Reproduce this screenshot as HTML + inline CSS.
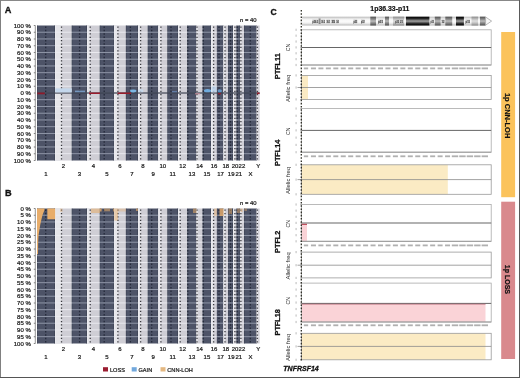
<!DOCTYPE html><html><head><meta charset="utf-8"><style>html,body{margin:0;padding:0;background:#fff}body{width:520px;height:378px;overflow:hidden;position:relative}svg{position:absolute;left:0;top:0;will-change:transform}text{font-family:"Liberation Sans",sans-serif}text.t{stroke:#1a1a1a;stroke-width:0.22px}text.b{stroke:#111;stroke-width:0.3px}text.b2{stroke:#111;stroke-width:0.2px}</style></head><body>
<svg width="520" height="378" viewBox="0 0 520 378">
<rect x="0" y="0" width="520" height="378" fill="#fff"/>
<text class="b" x="4.8" y="12.6" font-size="9.2" font-weight="bold" fill="#111">A</text>
<text x="240" y="22" font-size="5.9" fill="#222" class="t">n = 40</text>
<rect x="37.0" y="25.5" width="18.00" height="135.0" fill="#4d5367"/>
<rect x="54.40" y="25.5" width="0.6" height="135.0" fill="#3b4050"/>
<rect x="37.00" y="25.5" width="0.5" height="135.0" fill="#3b4050"/>
<rect x="55.0" y="25.5" width="16.80" height="135.0" fill="#cfced5"/>
<rect x="55.0" y="25.5" width="6.50" height="135.0" fill="#e5e5e9"/>
<rect x="55.10" y="25.5" width="1.0" height="135.0" fill="#ececf0"/>
<rect x="71.8" y="25.5" width="15.20" height="135.0" fill="#4d5367"/>
<rect x="86.40" y="25.5" width="0.6" height="135.0" fill="#3b4050"/>
<rect x="71.80" y="25.5" width="0.5" height="135.0" fill="#3b4050"/>
<rect x="87.0" y="25.5" width="12.80" height="135.0" fill="#cfced5"/>
<rect x="87.0" y="25.5" width="3.20" height="135.0" fill="#e5e5e9"/>
<rect x="87.10" y="25.5" width="1.0" height="135.0" fill="#ececf0"/>
<rect x="99.8" y="25.5" width="14.30" height="135.0" fill="#4d5367"/>
<rect x="113.50" y="25.5" width="0.6" height="135.0" fill="#3b4050"/>
<rect x="99.80" y="25.5" width="0.5" height="135.0" fill="#3b4050"/>
<rect x="114.1" y="25.5" width="11.80" height="135.0" fill="#cfced5"/>
<rect x="114.1" y="25.5" width="3.80" height="135.0" fill="#e5e5e9"/>
<rect x="114.20" y="25.5" width="1.0" height="135.0" fill="#ececf0"/>
<rect x="125.9" y="25.5" width="12.10" height="135.0" fill="#4d5367"/>
<rect x="137.40" y="25.5" width="0.6" height="135.0" fill="#3b4050"/>
<rect x="125.90" y="25.5" width="0.5" height="135.0" fill="#3b4050"/>
<rect x="138.0" y="25.5" width="9.80" height="135.0" fill="#cfced5"/>
<rect x="138.0" y="25.5" width="2.60" height="135.0" fill="#e5e5e9"/>
<rect x="138.10" y="25.5" width="1.0" height="135.0" fill="#ececf0"/>
<rect x="147.8" y="25.5" width="10.50" height="135.0" fill="#4d5367"/>
<rect x="157.70" y="25.5" width="0.6" height="135.0" fill="#3b4050"/>
<rect x="147.80" y="25.5" width="0.5" height="135.0" fill="#3b4050"/>
<rect x="158.3" y="25.5" width="9.10" height="135.0" fill="#cfced5"/>
<rect x="158.3" y="25.5" width="2.60" height="135.0" fill="#e5e5e9"/>
<rect x="158.40" y="25.5" width="1.0" height="135.0" fill="#ececf0"/>
<rect x="167.4" y="25.5" width="10.60" height="135.0" fill="#4d5367"/>
<rect x="177.40" y="25.5" width="0.6" height="135.0" fill="#3b4050"/>
<rect x="167.40" y="25.5" width="0.5" height="135.0" fill="#3b4050"/>
<rect x="178.0" y="25.5" width="9.30" height="135.0" fill="#cfced5"/>
<rect x="178.0" y="25.5" width="2.20" height="135.0" fill="#e5e5e9"/>
<rect x="178.10" y="25.5" width="1.0" height="135.0" fill="#ececf0"/>
<rect x="187.3" y="25.5" width="9.20" height="135.0" fill="#4d5367"/>
<rect x="195.90" y="25.5" width="0.6" height="135.0" fill="#3b4050"/>
<rect x="187.30" y="25.5" width="0.5" height="135.0" fill="#3b4050"/>
<rect x="196.5" y="25.5" width="6.20" height="135.0" fill="#cfced5"/>
<rect x="196.5" y="25.5" width="0.50" height="135.0" fill="#e5e5e9"/>
<rect x="196.60" y="25.5" width="1.0" height="135.0" fill="#ececf0"/>
<rect x="202.7" y="25.5" width="8.40" height="135.0" fill="#4d5367"/>
<rect x="210.50" y="25.5" width="0.6" height="135.0" fill="#3b4050"/>
<rect x="202.70" y="25.5" width="0.5" height="135.0" fill="#3b4050"/>
<rect x="211.1" y="25.5" width="5.80" height="135.0" fill="#cfced5"/>
<rect x="211.1" y="25.5" width="2.50" height="135.0" fill="#e5e5e9"/>
<rect x="211.20" y="25.5" width="1.0" height="135.0" fill="#ececf0"/>
<rect x="216.9" y="25.5" width="6.60" height="135.0" fill="#4d5367"/>
<rect x="222.90" y="25.5" width="0.6" height="135.0" fill="#3b4050"/>
<rect x="216.90" y="25.5" width="0.5" height="135.0" fill="#3b4050"/>
<rect x="223.5" y="25.5" width="4.50" height="135.0" fill="#cfced5"/>
<rect x="223.5" y="25.5" width="1.50" height="135.0" fill="#e5e5e9"/>
<rect x="223.60" y="25.5" width="1.0" height="135.0" fill="#ececf0"/>
<rect x="228.0" y="25.5" width="5.00" height="135.0" fill="#4d5367"/>
<rect x="232.40" y="25.5" width="0.6" height="135.0" fill="#3b4050"/>
<rect x="228.00" y="25.5" width="0.5" height="135.0" fill="#3b4050"/>
<rect x="233.0" y="25.5" width="3.60" height="135.0" fill="#cfced5"/>
<rect x="233.0" y="25.5" width="1.90" height="135.0" fill="#e5e5e9"/>
<rect x="233.10" y="25.5" width="1.0" height="135.0" fill="#ececf0"/>
<rect x="236.6" y="25.5" width="3.70" height="135.0" fill="#4d5367"/>
<rect x="239.70" y="25.5" width="0.6" height="135.0" fill="#3b4050"/>
<rect x="236.60" y="25.5" width="0.5" height="135.0" fill="#3b4050"/>
<rect x="240.3" y="25.5" width="3.70" height="135.0" fill="#cfced5"/>
<rect x="240.3" y="25.5" width="0.60" height="135.0" fill="#e5e5e9"/>
<rect x="240.40" y="25.5" width="1.0" height="135.0" fill="#ececf0"/>
<rect x="244.0" y="25.5" width="12.70" height="135.0" fill="#4d5367"/>
<rect x="256.10" y="25.5" width="0.6" height="135.0" fill="#3b4050"/>
<rect x="244.00" y="25.5" width="0.5" height="135.0" fill="#3b4050"/>
<rect x="256.7" y="25.5" width="2.90" height="135.0" fill="#cfced5"/>
<rect x="256.7" y="25.5" width="0.60" height="135.0" fill="#e5e5e9"/>
<rect x="256.80" y="25.5" width="1.0" height="135.0" fill="#ececf0"/>
<rect x="37.0" y="31.75" width="18.00" height="0.9" fill="#949bac"/>
<rect x="55.0" y="31.75" width="16.80" height="0.9" fill="#ececf1"/>
<rect x="71.8" y="31.75" width="15.20" height="0.9" fill="#949bac"/>
<rect x="87.0" y="31.75" width="12.80" height="0.9" fill="#ececf1"/>
<rect x="99.8" y="31.75" width="14.30" height="0.9" fill="#949bac"/>
<rect x="114.1" y="31.75" width="11.80" height="0.9" fill="#ececf1"/>
<rect x="125.9" y="31.75" width="12.10" height="0.9" fill="#949bac"/>
<rect x="138.0" y="31.75" width="9.80" height="0.9" fill="#ececf1"/>
<rect x="147.8" y="31.75" width="10.50" height="0.9" fill="#949bac"/>
<rect x="158.3" y="31.75" width="9.10" height="0.9" fill="#ececf1"/>
<rect x="167.4" y="31.75" width="10.60" height="0.9" fill="#949bac"/>
<rect x="178.0" y="31.75" width="9.30" height="0.9" fill="#ececf1"/>
<rect x="187.3" y="31.75" width="9.20" height="0.9" fill="#949bac"/>
<rect x="196.5" y="31.75" width="6.20" height="0.9" fill="#ececf1"/>
<rect x="202.7" y="31.75" width="8.40" height="0.9" fill="#949bac"/>
<rect x="211.1" y="31.75" width="5.80" height="0.9" fill="#ececf1"/>
<rect x="216.9" y="31.75" width="6.60" height="0.9" fill="#949bac"/>
<rect x="223.5" y="31.75" width="4.50" height="0.9" fill="#ececf1"/>
<rect x="228.0" y="31.75" width="5.00" height="0.9" fill="#949bac"/>
<rect x="233.0" y="31.75" width="3.60" height="0.9" fill="#ececf1"/>
<rect x="236.6" y="31.75" width="3.70" height="0.9" fill="#949bac"/>
<rect x="240.3" y="31.75" width="3.70" height="0.9" fill="#ececf1"/>
<rect x="244.0" y="31.75" width="12.70" height="0.9" fill="#949bac"/>
<rect x="256.7" y="31.75" width="2.90" height="0.9" fill="#ececf1"/>
<rect x="37.0" y="38.50" width="18.00" height="0.9" fill="#949bac"/>
<rect x="55.0" y="38.50" width="16.80" height="0.9" fill="#ececf1"/>
<rect x="71.8" y="38.50" width="15.20" height="0.9" fill="#949bac"/>
<rect x="87.0" y="38.50" width="12.80" height="0.9" fill="#ececf1"/>
<rect x="99.8" y="38.50" width="14.30" height="0.9" fill="#949bac"/>
<rect x="114.1" y="38.50" width="11.80" height="0.9" fill="#ececf1"/>
<rect x="125.9" y="38.50" width="12.10" height="0.9" fill="#949bac"/>
<rect x="138.0" y="38.50" width="9.80" height="0.9" fill="#ececf1"/>
<rect x="147.8" y="38.50" width="10.50" height="0.9" fill="#949bac"/>
<rect x="158.3" y="38.50" width="9.10" height="0.9" fill="#ececf1"/>
<rect x="167.4" y="38.50" width="10.60" height="0.9" fill="#949bac"/>
<rect x="178.0" y="38.50" width="9.30" height="0.9" fill="#ececf1"/>
<rect x="187.3" y="38.50" width="9.20" height="0.9" fill="#949bac"/>
<rect x="196.5" y="38.50" width="6.20" height="0.9" fill="#ececf1"/>
<rect x="202.7" y="38.50" width="8.40" height="0.9" fill="#949bac"/>
<rect x="211.1" y="38.50" width="5.80" height="0.9" fill="#ececf1"/>
<rect x="216.9" y="38.50" width="6.60" height="0.9" fill="#949bac"/>
<rect x="223.5" y="38.50" width="4.50" height="0.9" fill="#ececf1"/>
<rect x="228.0" y="38.50" width="5.00" height="0.9" fill="#949bac"/>
<rect x="233.0" y="38.50" width="3.60" height="0.9" fill="#ececf1"/>
<rect x="236.6" y="38.50" width="3.70" height="0.9" fill="#949bac"/>
<rect x="240.3" y="38.50" width="3.70" height="0.9" fill="#ececf1"/>
<rect x="244.0" y="38.50" width="12.70" height="0.9" fill="#949bac"/>
<rect x="256.7" y="38.50" width="2.90" height="0.9" fill="#ececf1"/>
<rect x="37.0" y="45.25" width="18.00" height="0.9" fill="#949bac"/>
<rect x="55.0" y="45.25" width="16.80" height="0.9" fill="#ececf1"/>
<rect x="71.8" y="45.25" width="15.20" height="0.9" fill="#949bac"/>
<rect x="87.0" y="45.25" width="12.80" height="0.9" fill="#ececf1"/>
<rect x="99.8" y="45.25" width="14.30" height="0.9" fill="#949bac"/>
<rect x="114.1" y="45.25" width="11.80" height="0.9" fill="#ececf1"/>
<rect x="125.9" y="45.25" width="12.10" height="0.9" fill="#949bac"/>
<rect x="138.0" y="45.25" width="9.80" height="0.9" fill="#ececf1"/>
<rect x="147.8" y="45.25" width="10.50" height="0.9" fill="#949bac"/>
<rect x="158.3" y="45.25" width="9.10" height="0.9" fill="#ececf1"/>
<rect x="167.4" y="45.25" width="10.60" height="0.9" fill="#949bac"/>
<rect x="178.0" y="45.25" width="9.30" height="0.9" fill="#ececf1"/>
<rect x="187.3" y="45.25" width="9.20" height="0.9" fill="#949bac"/>
<rect x="196.5" y="45.25" width="6.20" height="0.9" fill="#ececf1"/>
<rect x="202.7" y="45.25" width="8.40" height="0.9" fill="#949bac"/>
<rect x="211.1" y="45.25" width="5.80" height="0.9" fill="#ececf1"/>
<rect x="216.9" y="45.25" width="6.60" height="0.9" fill="#949bac"/>
<rect x="223.5" y="45.25" width="4.50" height="0.9" fill="#ececf1"/>
<rect x="228.0" y="45.25" width="5.00" height="0.9" fill="#949bac"/>
<rect x="233.0" y="45.25" width="3.60" height="0.9" fill="#ececf1"/>
<rect x="236.6" y="45.25" width="3.70" height="0.9" fill="#949bac"/>
<rect x="240.3" y="45.25" width="3.70" height="0.9" fill="#ececf1"/>
<rect x="244.0" y="45.25" width="12.70" height="0.9" fill="#949bac"/>
<rect x="256.7" y="45.25" width="2.90" height="0.9" fill="#ececf1"/>
<rect x="37.0" y="52.00" width="18.00" height="0.9" fill="#949bac"/>
<rect x="55.0" y="52.00" width="16.80" height="0.9" fill="#ececf1"/>
<rect x="71.8" y="52.00" width="15.20" height="0.9" fill="#949bac"/>
<rect x="87.0" y="52.00" width="12.80" height="0.9" fill="#ececf1"/>
<rect x="99.8" y="52.00" width="14.30" height="0.9" fill="#949bac"/>
<rect x="114.1" y="52.00" width="11.80" height="0.9" fill="#ececf1"/>
<rect x="125.9" y="52.00" width="12.10" height="0.9" fill="#949bac"/>
<rect x="138.0" y="52.00" width="9.80" height="0.9" fill="#ececf1"/>
<rect x="147.8" y="52.00" width="10.50" height="0.9" fill="#949bac"/>
<rect x="158.3" y="52.00" width="9.10" height="0.9" fill="#ececf1"/>
<rect x="167.4" y="52.00" width="10.60" height="0.9" fill="#949bac"/>
<rect x="178.0" y="52.00" width="9.30" height="0.9" fill="#ececf1"/>
<rect x="187.3" y="52.00" width="9.20" height="0.9" fill="#949bac"/>
<rect x="196.5" y="52.00" width="6.20" height="0.9" fill="#ececf1"/>
<rect x="202.7" y="52.00" width="8.40" height="0.9" fill="#949bac"/>
<rect x="211.1" y="52.00" width="5.80" height="0.9" fill="#ececf1"/>
<rect x="216.9" y="52.00" width="6.60" height="0.9" fill="#949bac"/>
<rect x="223.5" y="52.00" width="4.50" height="0.9" fill="#ececf1"/>
<rect x="228.0" y="52.00" width="5.00" height="0.9" fill="#949bac"/>
<rect x="233.0" y="52.00" width="3.60" height="0.9" fill="#ececf1"/>
<rect x="236.6" y="52.00" width="3.70" height="0.9" fill="#949bac"/>
<rect x="240.3" y="52.00" width="3.70" height="0.9" fill="#ececf1"/>
<rect x="244.0" y="52.00" width="12.70" height="0.9" fill="#949bac"/>
<rect x="256.7" y="52.00" width="2.90" height="0.9" fill="#ececf1"/>
<rect x="37.0" y="58.75" width="18.00" height="0.9" fill="#949bac"/>
<rect x="55.0" y="58.75" width="16.80" height="0.9" fill="#ececf1"/>
<rect x="71.8" y="58.75" width="15.20" height="0.9" fill="#949bac"/>
<rect x="87.0" y="58.75" width="12.80" height="0.9" fill="#ececf1"/>
<rect x="99.8" y="58.75" width="14.30" height="0.9" fill="#949bac"/>
<rect x="114.1" y="58.75" width="11.80" height="0.9" fill="#ececf1"/>
<rect x="125.9" y="58.75" width="12.10" height="0.9" fill="#949bac"/>
<rect x="138.0" y="58.75" width="9.80" height="0.9" fill="#ececf1"/>
<rect x="147.8" y="58.75" width="10.50" height="0.9" fill="#949bac"/>
<rect x="158.3" y="58.75" width="9.10" height="0.9" fill="#ececf1"/>
<rect x="167.4" y="58.75" width="10.60" height="0.9" fill="#949bac"/>
<rect x="178.0" y="58.75" width="9.30" height="0.9" fill="#ececf1"/>
<rect x="187.3" y="58.75" width="9.20" height="0.9" fill="#949bac"/>
<rect x="196.5" y="58.75" width="6.20" height="0.9" fill="#ececf1"/>
<rect x="202.7" y="58.75" width="8.40" height="0.9" fill="#949bac"/>
<rect x="211.1" y="58.75" width="5.80" height="0.9" fill="#ececf1"/>
<rect x="216.9" y="58.75" width="6.60" height="0.9" fill="#949bac"/>
<rect x="223.5" y="58.75" width="4.50" height="0.9" fill="#ececf1"/>
<rect x="228.0" y="58.75" width="5.00" height="0.9" fill="#949bac"/>
<rect x="233.0" y="58.75" width="3.60" height="0.9" fill="#ececf1"/>
<rect x="236.6" y="58.75" width="3.70" height="0.9" fill="#949bac"/>
<rect x="240.3" y="58.75" width="3.70" height="0.9" fill="#ececf1"/>
<rect x="244.0" y="58.75" width="12.70" height="0.9" fill="#949bac"/>
<rect x="256.7" y="58.75" width="2.90" height="0.9" fill="#ececf1"/>
<rect x="37.0" y="65.50" width="18.00" height="0.9" fill="#949bac"/>
<rect x="55.0" y="65.50" width="16.80" height="0.9" fill="#ececf1"/>
<rect x="71.8" y="65.50" width="15.20" height="0.9" fill="#949bac"/>
<rect x="87.0" y="65.50" width="12.80" height="0.9" fill="#ececf1"/>
<rect x="99.8" y="65.50" width="14.30" height="0.9" fill="#949bac"/>
<rect x="114.1" y="65.50" width="11.80" height="0.9" fill="#ececf1"/>
<rect x="125.9" y="65.50" width="12.10" height="0.9" fill="#949bac"/>
<rect x="138.0" y="65.50" width="9.80" height="0.9" fill="#ececf1"/>
<rect x="147.8" y="65.50" width="10.50" height="0.9" fill="#949bac"/>
<rect x="158.3" y="65.50" width="9.10" height="0.9" fill="#ececf1"/>
<rect x="167.4" y="65.50" width="10.60" height="0.9" fill="#949bac"/>
<rect x="178.0" y="65.50" width="9.30" height="0.9" fill="#ececf1"/>
<rect x="187.3" y="65.50" width="9.20" height="0.9" fill="#949bac"/>
<rect x="196.5" y="65.50" width="6.20" height="0.9" fill="#ececf1"/>
<rect x="202.7" y="65.50" width="8.40" height="0.9" fill="#949bac"/>
<rect x="211.1" y="65.50" width="5.80" height="0.9" fill="#ececf1"/>
<rect x="216.9" y="65.50" width="6.60" height="0.9" fill="#949bac"/>
<rect x="223.5" y="65.50" width="4.50" height="0.9" fill="#ececf1"/>
<rect x="228.0" y="65.50" width="5.00" height="0.9" fill="#949bac"/>
<rect x="233.0" y="65.50" width="3.60" height="0.9" fill="#ececf1"/>
<rect x="236.6" y="65.50" width="3.70" height="0.9" fill="#949bac"/>
<rect x="240.3" y="65.50" width="3.70" height="0.9" fill="#ececf1"/>
<rect x="244.0" y="65.50" width="12.70" height="0.9" fill="#949bac"/>
<rect x="256.7" y="65.50" width="2.90" height="0.9" fill="#ececf1"/>
<rect x="37.0" y="72.25" width="18.00" height="0.9" fill="#949bac"/>
<rect x="55.0" y="72.25" width="16.80" height="0.9" fill="#ececf1"/>
<rect x="71.8" y="72.25" width="15.20" height="0.9" fill="#949bac"/>
<rect x="87.0" y="72.25" width="12.80" height="0.9" fill="#ececf1"/>
<rect x="99.8" y="72.25" width="14.30" height="0.9" fill="#949bac"/>
<rect x="114.1" y="72.25" width="11.80" height="0.9" fill="#ececf1"/>
<rect x="125.9" y="72.25" width="12.10" height="0.9" fill="#949bac"/>
<rect x="138.0" y="72.25" width="9.80" height="0.9" fill="#ececf1"/>
<rect x="147.8" y="72.25" width="10.50" height="0.9" fill="#949bac"/>
<rect x="158.3" y="72.25" width="9.10" height="0.9" fill="#ececf1"/>
<rect x="167.4" y="72.25" width="10.60" height="0.9" fill="#949bac"/>
<rect x="178.0" y="72.25" width="9.30" height="0.9" fill="#ececf1"/>
<rect x="187.3" y="72.25" width="9.20" height="0.9" fill="#949bac"/>
<rect x="196.5" y="72.25" width="6.20" height="0.9" fill="#ececf1"/>
<rect x="202.7" y="72.25" width="8.40" height="0.9" fill="#949bac"/>
<rect x="211.1" y="72.25" width="5.80" height="0.9" fill="#ececf1"/>
<rect x="216.9" y="72.25" width="6.60" height="0.9" fill="#949bac"/>
<rect x="223.5" y="72.25" width="4.50" height="0.9" fill="#ececf1"/>
<rect x="228.0" y="72.25" width="5.00" height="0.9" fill="#949bac"/>
<rect x="233.0" y="72.25" width="3.60" height="0.9" fill="#ececf1"/>
<rect x="236.6" y="72.25" width="3.70" height="0.9" fill="#949bac"/>
<rect x="240.3" y="72.25" width="3.70" height="0.9" fill="#ececf1"/>
<rect x="244.0" y="72.25" width="12.70" height="0.9" fill="#949bac"/>
<rect x="256.7" y="72.25" width="2.90" height="0.9" fill="#ececf1"/>
<rect x="37.0" y="79.00" width="18.00" height="0.9" fill="#949bac"/>
<rect x="55.0" y="79.00" width="16.80" height="0.9" fill="#ececf1"/>
<rect x="71.8" y="79.00" width="15.20" height="0.9" fill="#949bac"/>
<rect x="87.0" y="79.00" width="12.80" height="0.9" fill="#ececf1"/>
<rect x="99.8" y="79.00" width="14.30" height="0.9" fill="#949bac"/>
<rect x="114.1" y="79.00" width="11.80" height="0.9" fill="#ececf1"/>
<rect x="125.9" y="79.00" width="12.10" height="0.9" fill="#949bac"/>
<rect x="138.0" y="79.00" width="9.80" height="0.9" fill="#ececf1"/>
<rect x="147.8" y="79.00" width="10.50" height="0.9" fill="#949bac"/>
<rect x="158.3" y="79.00" width="9.10" height="0.9" fill="#ececf1"/>
<rect x="167.4" y="79.00" width="10.60" height="0.9" fill="#949bac"/>
<rect x="178.0" y="79.00" width="9.30" height="0.9" fill="#ececf1"/>
<rect x="187.3" y="79.00" width="9.20" height="0.9" fill="#949bac"/>
<rect x="196.5" y="79.00" width="6.20" height="0.9" fill="#ececf1"/>
<rect x="202.7" y="79.00" width="8.40" height="0.9" fill="#949bac"/>
<rect x="211.1" y="79.00" width="5.80" height="0.9" fill="#ececf1"/>
<rect x="216.9" y="79.00" width="6.60" height="0.9" fill="#949bac"/>
<rect x="223.5" y="79.00" width="4.50" height="0.9" fill="#ececf1"/>
<rect x="228.0" y="79.00" width="5.00" height="0.9" fill="#949bac"/>
<rect x="233.0" y="79.00" width="3.60" height="0.9" fill="#ececf1"/>
<rect x="236.6" y="79.00" width="3.70" height="0.9" fill="#949bac"/>
<rect x="240.3" y="79.00" width="3.70" height="0.9" fill="#ececf1"/>
<rect x="244.0" y="79.00" width="12.70" height="0.9" fill="#949bac"/>
<rect x="256.7" y="79.00" width="2.90" height="0.9" fill="#ececf1"/>
<rect x="37.0" y="85.75" width="18.00" height="0.9" fill="#949bac"/>
<rect x="55.0" y="85.75" width="16.80" height="0.9" fill="#ececf1"/>
<rect x="71.8" y="85.75" width="15.20" height="0.9" fill="#949bac"/>
<rect x="87.0" y="85.75" width="12.80" height="0.9" fill="#ececf1"/>
<rect x="99.8" y="85.75" width="14.30" height="0.9" fill="#949bac"/>
<rect x="114.1" y="85.75" width="11.80" height="0.9" fill="#ececf1"/>
<rect x="125.9" y="85.75" width="12.10" height="0.9" fill="#949bac"/>
<rect x="138.0" y="85.75" width="9.80" height="0.9" fill="#ececf1"/>
<rect x="147.8" y="85.75" width="10.50" height="0.9" fill="#949bac"/>
<rect x="158.3" y="85.75" width="9.10" height="0.9" fill="#ececf1"/>
<rect x="167.4" y="85.75" width="10.60" height="0.9" fill="#949bac"/>
<rect x="178.0" y="85.75" width="9.30" height="0.9" fill="#ececf1"/>
<rect x="187.3" y="85.75" width="9.20" height="0.9" fill="#949bac"/>
<rect x="196.5" y="85.75" width="6.20" height="0.9" fill="#ececf1"/>
<rect x="202.7" y="85.75" width="8.40" height="0.9" fill="#949bac"/>
<rect x="211.1" y="85.75" width="5.80" height="0.9" fill="#ececf1"/>
<rect x="216.9" y="85.75" width="6.60" height="0.9" fill="#949bac"/>
<rect x="223.5" y="85.75" width="4.50" height="0.9" fill="#ececf1"/>
<rect x="228.0" y="85.75" width="5.00" height="0.9" fill="#949bac"/>
<rect x="233.0" y="85.75" width="3.60" height="0.9" fill="#ececf1"/>
<rect x="236.6" y="85.75" width="3.70" height="0.9" fill="#949bac"/>
<rect x="240.3" y="85.75" width="3.70" height="0.9" fill="#ececf1"/>
<rect x="244.0" y="85.75" width="12.70" height="0.9" fill="#949bac"/>
<rect x="256.7" y="85.75" width="2.90" height="0.9" fill="#ececf1"/>
<rect x="37.0" y="92.50" width="18.00" height="0.9" fill="#949bac"/>
<rect x="55.0" y="92.50" width="16.80" height="0.9" fill="#ececf1"/>
<rect x="71.8" y="92.50" width="15.20" height="0.9" fill="#949bac"/>
<rect x="87.0" y="92.50" width="12.80" height="0.9" fill="#ececf1"/>
<rect x="99.8" y="92.50" width="14.30" height="0.9" fill="#949bac"/>
<rect x="114.1" y="92.50" width="11.80" height="0.9" fill="#ececf1"/>
<rect x="125.9" y="92.50" width="12.10" height="0.9" fill="#949bac"/>
<rect x="138.0" y="92.50" width="9.80" height="0.9" fill="#ececf1"/>
<rect x="147.8" y="92.50" width="10.50" height="0.9" fill="#949bac"/>
<rect x="158.3" y="92.50" width="9.10" height="0.9" fill="#ececf1"/>
<rect x="167.4" y="92.50" width="10.60" height="0.9" fill="#949bac"/>
<rect x="178.0" y="92.50" width="9.30" height="0.9" fill="#ececf1"/>
<rect x="187.3" y="92.50" width="9.20" height="0.9" fill="#949bac"/>
<rect x="196.5" y="92.50" width="6.20" height="0.9" fill="#ececf1"/>
<rect x="202.7" y="92.50" width="8.40" height="0.9" fill="#949bac"/>
<rect x="211.1" y="92.50" width="5.80" height="0.9" fill="#ececf1"/>
<rect x="216.9" y="92.50" width="6.60" height="0.9" fill="#949bac"/>
<rect x="223.5" y="92.50" width="4.50" height="0.9" fill="#ececf1"/>
<rect x="228.0" y="92.50" width="5.00" height="0.9" fill="#949bac"/>
<rect x="233.0" y="92.50" width="3.60" height="0.9" fill="#ececf1"/>
<rect x="236.6" y="92.50" width="3.70" height="0.9" fill="#949bac"/>
<rect x="240.3" y="92.50" width="3.70" height="0.9" fill="#ececf1"/>
<rect x="244.0" y="92.50" width="12.70" height="0.9" fill="#949bac"/>
<rect x="256.7" y="92.50" width="2.90" height="0.9" fill="#ececf1"/>
<rect x="37.0" y="99.25" width="18.00" height="0.9" fill="#949bac"/>
<rect x="55.0" y="99.25" width="16.80" height="0.9" fill="#ececf1"/>
<rect x="71.8" y="99.25" width="15.20" height="0.9" fill="#949bac"/>
<rect x="87.0" y="99.25" width="12.80" height="0.9" fill="#ececf1"/>
<rect x="99.8" y="99.25" width="14.30" height="0.9" fill="#949bac"/>
<rect x="114.1" y="99.25" width="11.80" height="0.9" fill="#ececf1"/>
<rect x="125.9" y="99.25" width="12.10" height="0.9" fill="#949bac"/>
<rect x="138.0" y="99.25" width="9.80" height="0.9" fill="#ececf1"/>
<rect x="147.8" y="99.25" width="10.50" height="0.9" fill="#949bac"/>
<rect x="158.3" y="99.25" width="9.10" height="0.9" fill="#ececf1"/>
<rect x="167.4" y="99.25" width="10.60" height="0.9" fill="#949bac"/>
<rect x="178.0" y="99.25" width="9.30" height="0.9" fill="#ececf1"/>
<rect x="187.3" y="99.25" width="9.20" height="0.9" fill="#949bac"/>
<rect x="196.5" y="99.25" width="6.20" height="0.9" fill="#ececf1"/>
<rect x="202.7" y="99.25" width="8.40" height="0.9" fill="#949bac"/>
<rect x="211.1" y="99.25" width="5.80" height="0.9" fill="#ececf1"/>
<rect x="216.9" y="99.25" width="6.60" height="0.9" fill="#949bac"/>
<rect x="223.5" y="99.25" width="4.50" height="0.9" fill="#ececf1"/>
<rect x="228.0" y="99.25" width="5.00" height="0.9" fill="#949bac"/>
<rect x="233.0" y="99.25" width="3.60" height="0.9" fill="#ececf1"/>
<rect x="236.6" y="99.25" width="3.70" height="0.9" fill="#949bac"/>
<rect x="240.3" y="99.25" width="3.70" height="0.9" fill="#ececf1"/>
<rect x="244.0" y="99.25" width="12.70" height="0.9" fill="#949bac"/>
<rect x="256.7" y="99.25" width="2.90" height="0.9" fill="#ececf1"/>
<rect x="37.0" y="106.00" width="18.00" height="0.9" fill="#949bac"/>
<rect x="55.0" y="106.00" width="16.80" height="0.9" fill="#ececf1"/>
<rect x="71.8" y="106.00" width="15.20" height="0.9" fill="#949bac"/>
<rect x="87.0" y="106.00" width="12.80" height="0.9" fill="#ececf1"/>
<rect x="99.8" y="106.00" width="14.30" height="0.9" fill="#949bac"/>
<rect x="114.1" y="106.00" width="11.80" height="0.9" fill="#ececf1"/>
<rect x="125.9" y="106.00" width="12.10" height="0.9" fill="#949bac"/>
<rect x="138.0" y="106.00" width="9.80" height="0.9" fill="#ececf1"/>
<rect x="147.8" y="106.00" width="10.50" height="0.9" fill="#949bac"/>
<rect x="158.3" y="106.00" width="9.10" height="0.9" fill="#ececf1"/>
<rect x="167.4" y="106.00" width="10.60" height="0.9" fill="#949bac"/>
<rect x="178.0" y="106.00" width="9.30" height="0.9" fill="#ececf1"/>
<rect x="187.3" y="106.00" width="9.20" height="0.9" fill="#949bac"/>
<rect x="196.5" y="106.00" width="6.20" height="0.9" fill="#ececf1"/>
<rect x="202.7" y="106.00" width="8.40" height="0.9" fill="#949bac"/>
<rect x="211.1" y="106.00" width="5.80" height="0.9" fill="#ececf1"/>
<rect x="216.9" y="106.00" width="6.60" height="0.9" fill="#949bac"/>
<rect x="223.5" y="106.00" width="4.50" height="0.9" fill="#ececf1"/>
<rect x="228.0" y="106.00" width="5.00" height="0.9" fill="#949bac"/>
<rect x="233.0" y="106.00" width="3.60" height="0.9" fill="#ececf1"/>
<rect x="236.6" y="106.00" width="3.70" height="0.9" fill="#949bac"/>
<rect x="240.3" y="106.00" width="3.70" height="0.9" fill="#ececf1"/>
<rect x="244.0" y="106.00" width="12.70" height="0.9" fill="#949bac"/>
<rect x="256.7" y="106.00" width="2.90" height="0.9" fill="#ececf1"/>
<rect x="37.0" y="112.75" width="18.00" height="0.9" fill="#949bac"/>
<rect x="55.0" y="112.75" width="16.80" height="0.9" fill="#ececf1"/>
<rect x="71.8" y="112.75" width="15.20" height="0.9" fill="#949bac"/>
<rect x="87.0" y="112.75" width="12.80" height="0.9" fill="#ececf1"/>
<rect x="99.8" y="112.75" width="14.30" height="0.9" fill="#949bac"/>
<rect x="114.1" y="112.75" width="11.80" height="0.9" fill="#ececf1"/>
<rect x="125.9" y="112.75" width="12.10" height="0.9" fill="#949bac"/>
<rect x="138.0" y="112.75" width="9.80" height="0.9" fill="#ececf1"/>
<rect x="147.8" y="112.75" width="10.50" height="0.9" fill="#949bac"/>
<rect x="158.3" y="112.75" width="9.10" height="0.9" fill="#ececf1"/>
<rect x="167.4" y="112.75" width="10.60" height="0.9" fill="#949bac"/>
<rect x="178.0" y="112.75" width="9.30" height="0.9" fill="#ececf1"/>
<rect x="187.3" y="112.75" width="9.20" height="0.9" fill="#949bac"/>
<rect x="196.5" y="112.75" width="6.20" height="0.9" fill="#ececf1"/>
<rect x="202.7" y="112.75" width="8.40" height="0.9" fill="#949bac"/>
<rect x="211.1" y="112.75" width="5.80" height="0.9" fill="#ececf1"/>
<rect x="216.9" y="112.75" width="6.60" height="0.9" fill="#949bac"/>
<rect x="223.5" y="112.75" width="4.50" height="0.9" fill="#ececf1"/>
<rect x="228.0" y="112.75" width="5.00" height="0.9" fill="#949bac"/>
<rect x="233.0" y="112.75" width="3.60" height="0.9" fill="#ececf1"/>
<rect x="236.6" y="112.75" width="3.70" height="0.9" fill="#949bac"/>
<rect x="240.3" y="112.75" width="3.70" height="0.9" fill="#ececf1"/>
<rect x="244.0" y="112.75" width="12.70" height="0.9" fill="#949bac"/>
<rect x="256.7" y="112.75" width="2.90" height="0.9" fill="#ececf1"/>
<rect x="37.0" y="119.50" width="18.00" height="0.9" fill="#949bac"/>
<rect x="55.0" y="119.50" width="16.80" height="0.9" fill="#ececf1"/>
<rect x="71.8" y="119.50" width="15.20" height="0.9" fill="#949bac"/>
<rect x="87.0" y="119.50" width="12.80" height="0.9" fill="#ececf1"/>
<rect x="99.8" y="119.50" width="14.30" height="0.9" fill="#949bac"/>
<rect x="114.1" y="119.50" width="11.80" height="0.9" fill="#ececf1"/>
<rect x="125.9" y="119.50" width="12.10" height="0.9" fill="#949bac"/>
<rect x="138.0" y="119.50" width="9.80" height="0.9" fill="#ececf1"/>
<rect x="147.8" y="119.50" width="10.50" height="0.9" fill="#949bac"/>
<rect x="158.3" y="119.50" width="9.10" height="0.9" fill="#ececf1"/>
<rect x="167.4" y="119.50" width="10.60" height="0.9" fill="#949bac"/>
<rect x="178.0" y="119.50" width="9.30" height="0.9" fill="#ececf1"/>
<rect x="187.3" y="119.50" width="9.20" height="0.9" fill="#949bac"/>
<rect x="196.5" y="119.50" width="6.20" height="0.9" fill="#ececf1"/>
<rect x="202.7" y="119.50" width="8.40" height="0.9" fill="#949bac"/>
<rect x="211.1" y="119.50" width="5.80" height="0.9" fill="#ececf1"/>
<rect x="216.9" y="119.50" width="6.60" height="0.9" fill="#949bac"/>
<rect x="223.5" y="119.50" width="4.50" height="0.9" fill="#ececf1"/>
<rect x="228.0" y="119.50" width="5.00" height="0.9" fill="#949bac"/>
<rect x="233.0" y="119.50" width="3.60" height="0.9" fill="#ececf1"/>
<rect x="236.6" y="119.50" width="3.70" height="0.9" fill="#949bac"/>
<rect x="240.3" y="119.50" width="3.70" height="0.9" fill="#ececf1"/>
<rect x="244.0" y="119.50" width="12.70" height="0.9" fill="#949bac"/>
<rect x="256.7" y="119.50" width="2.90" height="0.9" fill="#ececf1"/>
<rect x="37.0" y="126.25" width="18.00" height="0.9" fill="#949bac"/>
<rect x="55.0" y="126.25" width="16.80" height="0.9" fill="#ececf1"/>
<rect x="71.8" y="126.25" width="15.20" height="0.9" fill="#949bac"/>
<rect x="87.0" y="126.25" width="12.80" height="0.9" fill="#ececf1"/>
<rect x="99.8" y="126.25" width="14.30" height="0.9" fill="#949bac"/>
<rect x="114.1" y="126.25" width="11.80" height="0.9" fill="#ececf1"/>
<rect x="125.9" y="126.25" width="12.10" height="0.9" fill="#949bac"/>
<rect x="138.0" y="126.25" width="9.80" height="0.9" fill="#ececf1"/>
<rect x="147.8" y="126.25" width="10.50" height="0.9" fill="#949bac"/>
<rect x="158.3" y="126.25" width="9.10" height="0.9" fill="#ececf1"/>
<rect x="167.4" y="126.25" width="10.60" height="0.9" fill="#949bac"/>
<rect x="178.0" y="126.25" width="9.30" height="0.9" fill="#ececf1"/>
<rect x="187.3" y="126.25" width="9.20" height="0.9" fill="#949bac"/>
<rect x="196.5" y="126.25" width="6.20" height="0.9" fill="#ececf1"/>
<rect x="202.7" y="126.25" width="8.40" height="0.9" fill="#949bac"/>
<rect x="211.1" y="126.25" width="5.80" height="0.9" fill="#ececf1"/>
<rect x="216.9" y="126.25" width="6.60" height="0.9" fill="#949bac"/>
<rect x="223.5" y="126.25" width="4.50" height="0.9" fill="#ececf1"/>
<rect x="228.0" y="126.25" width="5.00" height="0.9" fill="#949bac"/>
<rect x="233.0" y="126.25" width="3.60" height="0.9" fill="#ececf1"/>
<rect x="236.6" y="126.25" width="3.70" height="0.9" fill="#949bac"/>
<rect x="240.3" y="126.25" width="3.70" height="0.9" fill="#ececf1"/>
<rect x="244.0" y="126.25" width="12.70" height="0.9" fill="#949bac"/>
<rect x="256.7" y="126.25" width="2.90" height="0.9" fill="#ececf1"/>
<rect x="37.0" y="133.00" width="18.00" height="0.9" fill="#949bac"/>
<rect x="55.0" y="133.00" width="16.80" height="0.9" fill="#ececf1"/>
<rect x="71.8" y="133.00" width="15.20" height="0.9" fill="#949bac"/>
<rect x="87.0" y="133.00" width="12.80" height="0.9" fill="#ececf1"/>
<rect x="99.8" y="133.00" width="14.30" height="0.9" fill="#949bac"/>
<rect x="114.1" y="133.00" width="11.80" height="0.9" fill="#ececf1"/>
<rect x="125.9" y="133.00" width="12.10" height="0.9" fill="#949bac"/>
<rect x="138.0" y="133.00" width="9.80" height="0.9" fill="#ececf1"/>
<rect x="147.8" y="133.00" width="10.50" height="0.9" fill="#949bac"/>
<rect x="158.3" y="133.00" width="9.10" height="0.9" fill="#ececf1"/>
<rect x="167.4" y="133.00" width="10.60" height="0.9" fill="#949bac"/>
<rect x="178.0" y="133.00" width="9.30" height="0.9" fill="#ececf1"/>
<rect x="187.3" y="133.00" width="9.20" height="0.9" fill="#949bac"/>
<rect x="196.5" y="133.00" width="6.20" height="0.9" fill="#ececf1"/>
<rect x="202.7" y="133.00" width="8.40" height="0.9" fill="#949bac"/>
<rect x="211.1" y="133.00" width="5.80" height="0.9" fill="#ececf1"/>
<rect x="216.9" y="133.00" width="6.60" height="0.9" fill="#949bac"/>
<rect x="223.5" y="133.00" width="4.50" height="0.9" fill="#ececf1"/>
<rect x="228.0" y="133.00" width="5.00" height="0.9" fill="#949bac"/>
<rect x="233.0" y="133.00" width="3.60" height="0.9" fill="#ececf1"/>
<rect x="236.6" y="133.00" width="3.70" height="0.9" fill="#949bac"/>
<rect x="240.3" y="133.00" width="3.70" height="0.9" fill="#ececf1"/>
<rect x="244.0" y="133.00" width="12.70" height="0.9" fill="#949bac"/>
<rect x="256.7" y="133.00" width="2.90" height="0.9" fill="#ececf1"/>
<rect x="37.0" y="139.75" width="18.00" height="0.9" fill="#949bac"/>
<rect x="55.0" y="139.75" width="16.80" height="0.9" fill="#ececf1"/>
<rect x="71.8" y="139.75" width="15.20" height="0.9" fill="#949bac"/>
<rect x="87.0" y="139.75" width="12.80" height="0.9" fill="#ececf1"/>
<rect x="99.8" y="139.75" width="14.30" height="0.9" fill="#949bac"/>
<rect x="114.1" y="139.75" width="11.80" height="0.9" fill="#ececf1"/>
<rect x="125.9" y="139.75" width="12.10" height="0.9" fill="#949bac"/>
<rect x="138.0" y="139.75" width="9.80" height="0.9" fill="#ececf1"/>
<rect x="147.8" y="139.75" width="10.50" height="0.9" fill="#949bac"/>
<rect x="158.3" y="139.75" width="9.10" height="0.9" fill="#ececf1"/>
<rect x="167.4" y="139.75" width="10.60" height="0.9" fill="#949bac"/>
<rect x="178.0" y="139.75" width="9.30" height="0.9" fill="#ececf1"/>
<rect x="187.3" y="139.75" width="9.20" height="0.9" fill="#949bac"/>
<rect x="196.5" y="139.75" width="6.20" height="0.9" fill="#ececf1"/>
<rect x="202.7" y="139.75" width="8.40" height="0.9" fill="#949bac"/>
<rect x="211.1" y="139.75" width="5.80" height="0.9" fill="#ececf1"/>
<rect x="216.9" y="139.75" width="6.60" height="0.9" fill="#949bac"/>
<rect x="223.5" y="139.75" width="4.50" height="0.9" fill="#ececf1"/>
<rect x="228.0" y="139.75" width="5.00" height="0.9" fill="#949bac"/>
<rect x="233.0" y="139.75" width="3.60" height="0.9" fill="#ececf1"/>
<rect x="236.6" y="139.75" width="3.70" height="0.9" fill="#949bac"/>
<rect x="240.3" y="139.75" width="3.70" height="0.9" fill="#ececf1"/>
<rect x="244.0" y="139.75" width="12.70" height="0.9" fill="#949bac"/>
<rect x="256.7" y="139.75" width="2.90" height="0.9" fill="#ececf1"/>
<rect x="37.0" y="146.50" width="18.00" height="0.9" fill="#949bac"/>
<rect x="55.0" y="146.50" width="16.80" height="0.9" fill="#ececf1"/>
<rect x="71.8" y="146.50" width="15.20" height="0.9" fill="#949bac"/>
<rect x="87.0" y="146.50" width="12.80" height="0.9" fill="#ececf1"/>
<rect x="99.8" y="146.50" width="14.30" height="0.9" fill="#949bac"/>
<rect x="114.1" y="146.50" width="11.80" height="0.9" fill="#ececf1"/>
<rect x="125.9" y="146.50" width="12.10" height="0.9" fill="#949bac"/>
<rect x="138.0" y="146.50" width="9.80" height="0.9" fill="#ececf1"/>
<rect x="147.8" y="146.50" width="10.50" height="0.9" fill="#949bac"/>
<rect x="158.3" y="146.50" width="9.10" height="0.9" fill="#ececf1"/>
<rect x="167.4" y="146.50" width="10.60" height="0.9" fill="#949bac"/>
<rect x="178.0" y="146.50" width="9.30" height="0.9" fill="#ececf1"/>
<rect x="187.3" y="146.50" width="9.20" height="0.9" fill="#949bac"/>
<rect x="196.5" y="146.50" width="6.20" height="0.9" fill="#ececf1"/>
<rect x="202.7" y="146.50" width="8.40" height="0.9" fill="#949bac"/>
<rect x="211.1" y="146.50" width="5.80" height="0.9" fill="#ececf1"/>
<rect x="216.9" y="146.50" width="6.60" height="0.9" fill="#949bac"/>
<rect x="223.5" y="146.50" width="4.50" height="0.9" fill="#ececf1"/>
<rect x="228.0" y="146.50" width="5.00" height="0.9" fill="#949bac"/>
<rect x="233.0" y="146.50" width="3.60" height="0.9" fill="#ececf1"/>
<rect x="236.6" y="146.50" width="3.70" height="0.9" fill="#949bac"/>
<rect x="240.3" y="146.50" width="3.70" height="0.9" fill="#ececf1"/>
<rect x="244.0" y="146.50" width="12.70" height="0.9" fill="#949bac"/>
<rect x="256.7" y="146.50" width="2.90" height="0.9" fill="#ececf1"/>
<rect x="37.0" y="153.25" width="18.00" height="0.9" fill="#949bac"/>
<rect x="55.0" y="153.25" width="16.80" height="0.9" fill="#ececf1"/>
<rect x="71.8" y="153.25" width="15.20" height="0.9" fill="#949bac"/>
<rect x="87.0" y="153.25" width="12.80" height="0.9" fill="#ececf1"/>
<rect x="99.8" y="153.25" width="14.30" height="0.9" fill="#949bac"/>
<rect x="114.1" y="153.25" width="11.80" height="0.9" fill="#ececf1"/>
<rect x="125.9" y="153.25" width="12.10" height="0.9" fill="#949bac"/>
<rect x="138.0" y="153.25" width="9.80" height="0.9" fill="#ececf1"/>
<rect x="147.8" y="153.25" width="10.50" height="0.9" fill="#949bac"/>
<rect x="158.3" y="153.25" width="9.10" height="0.9" fill="#ececf1"/>
<rect x="167.4" y="153.25" width="10.60" height="0.9" fill="#949bac"/>
<rect x="178.0" y="153.25" width="9.30" height="0.9" fill="#ececf1"/>
<rect x="187.3" y="153.25" width="9.20" height="0.9" fill="#949bac"/>
<rect x="196.5" y="153.25" width="6.20" height="0.9" fill="#ececf1"/>
<rect x="202.7" y="153.25" width="8.40" height="0.9" fill="#949bac"/>
<rect x="211.1" y="153.25" width="5.80" height="0.9" fill="#ececf1"/>
<rect x="216.9" y="153.25" width="6.60" height="0.9" fill="#949bac"/>
<rect x="223.5" y="153.25" width="4.50" height="0.9" fill="#ececf1"/>
<rect x="228.0" y="153.25" width="5.00" height="0.9" fill="#949bac"/>
<rect x="233.0" y="153.25" width="3.60" height="0.9" fill="#ececf1"/>
<rect x="236.6" y="153.25" width="3.70" height="0.9" fill="#949bac"/>
<rect x="240.3" y="153.25" width="3.70" height="0.9" fill="#ececf1"/>
<rect x="244.0" y="153.25" width="12.70" height="0.9" fill="#949bac"/>
<rect x="256.7" y="153.25" width="2.90" height="0.9" fill="#ececf1"/>
<line x1="45.7" y1="26.44" x2="45.7" y2="160.5" stroke="#252a3a" stroke-width="1.3" stroke-dasharray="1.5 1.875"/>
<line x1="61.5" y1="26.54" x2="61.5" y2="160.5" stroke="#38383e" stroke-width="1.3" stroke-dasharray="1.3 2.075"/>
<line x1="79.6" y1="26.44" x2="79.6" y2="160.5" stroke="#252a3a" stroke-width="1.3" stroke-dasharray="1.5 1.875"/>
<line x1="90.2" y1="26.54" x2="90.2" y2="160.5" stroke="#38383e" stroke-width="1.3" stroke-dasharray="1.3 2.075"/>
<line x1="104.2" y1="26.44" x2="104.2" y2="160.5" stroke="#252a3a" stroke-width="1.3" stroke-dasharray="1.5 1.875"/>
<line x1="117.9" y1="26.54" x2="117.9" y2="160.5" stroke="#38383e" stroke-width="1.3" stroke-dasharray="1.3 2.075"/>
<line x1="130.4" y1="26.44" x2="130.4" y2="160.5" stroke="#252a3a" stroke-width="1.3" stroke-dasharray="1.5 1.875"/>
<line x1="140.6" y1="26.54" x2="140.6" y2="160.5" stroke="#38383e" stroke-width="1.3" stroke-dasharray="1.3 2.075"/>
<line x1="151.7" y1="26.44" x2="151.7" y2="160.5" stroke="#252a3a" stroke-width="1.3" stroke-dasharray="1.5 1.875"/>
<line x1="160.9" y1="26.54" x2="160.9" y2="160.5" stroke="#38383e" stroke-width="1.3" stroke-dasharray="1.3 2.075"/>
<line x1="171.0" y1="26.44" x2="171.0" y2="160.5" stroke="#252a3a" stroke-width="1.3" stroke-dasharray="1.5 1.875"/>
<line x1="180.2" y1="26.54" x2="180.2" y2="160.5" stroke="#38383e" stroke-width="1.3" stroke-dasharray="1.3 2.075"/>
<line x1="187.8" y1="26.44" x2="187.8" y2="160.5" stroke="#252a3a" stroke-width="1.3" stroke-dasharray="1.5 1.875"/>
<line x1="197.0" y1="26.54" x2="197.0" y2="160.5" stroke="#38383e" stroke-width="1.3" stroke-dasharray="1.3 2.075"/>
<line x1="203.3" y1="26.44" x2="203.3" y2="160.5" stroke="#252a3a" stroke-width="1.3" stroke-dasharray="1.5 1.875"/>
<line x1="213.6" y1="26.54" x2="213.6" y2="160.5" stroke="#38383e" stroke-width="1.3" stroke-dasharray="1.3 2.075"/>
<line x1="219.0" y1="26.44" x2="219.0" y2="160.5" stroke="#252a3a" stroke-width="1.3" stroke-dasharray="1.5 1.875"/>
<line x1="225.0" y1="26.54" x2="225.0" y2="160.5" stroke="#38383e" stroke-width="1.3" stroke-dasharray="1.3 2.075"/>
<line x1="230.5" y1="26.44" x2="230.5" y2="160.5" stroke="#252a3a" stroke-width="1.3" stroke-dasharray="1.5 1.875"/>
<line x1="234.9" y1="26.54" x2="234.9" y2="160.5" stroke="#38383e" stroke-width="1.3" stroke-dasharray="1.3 2.075"/>
<line x1="237.2" y1="26.44" x2="237.2" y2="160.5" stroke="#252a3a" stroke-width="1.3" stroke-dasharray="1.5 1.875"/>
<line x1="240.9" y1="26.54" x2="240.9" y2="160.5" stroke="#38383e" stroke-width="1.3" stroke-dasharray="1.3 2.075"/>
<line x1="250.3" y1="26.44" x2="250.3" y2="160.5" stroke="#252a3a" stroke-width="1.3" stroke-dasharray="1.5 1.875"/>
<line x1="257.3" y1="26.54" x2="257.3" y2="160.5" stroke="#38383e" stroke-width="1.3" stroke-dasharray="1.3 2.075"/>
<rect x="37" y="92.40" width="222.6" height="1.2" fill="#1f2433" opacity="0.85"/>
<rect x="55.3" y="88.40" width="16.4" height="4.0" fill="#c4d7ec"/>
<rect x="75" y="90.60" width="10" height="1.6" fill="#7fa9d6" opacity="0.8"/>
<ellipse cx="133.2" cy="91.00" rx="3.2" ry="1.4" fill="#7db7e4"/>
<rect x="138.2" y="89.40" width="5" height="2.8" fill="#c8dcf0" opacity="0.8"/>
<ellipse cx="207.5" cy="90.70" rx="3.6" ry="1.6" fill="#6fabde"/>
<rect x="211.5" y="86.50" width="5" height="5.8" fill="#bcd4ee" opacity="0.8"/>
<ellipse cx="219.8" cy="90.70" rx="2.2" ry="1.5" fill="#6aa4da" opacity="0.85"/>
<rect x="172" y="91.00" width="5" height="1.3" fill="#6b8fc0" opacity="0.7"/>
<rect x="37.3" y="92.50" width="7.5" height="1.8" fill="#8e1a2b"/>
<rect x="89" y="92.50" width="11" height="1.5" fill="#9a1c2c"/>
<rect x="117.6" y="92.50" width="13.4" height="1.5" fill="#9a1c2c"/>
<rect x="218" y="93.10" width="3" height="1.2" fill="#9a1c2c"/>
<rect x="257" y="92.50" width="2.6" height="1.6" fill="#9a1c2c"/>
<rect x="195" y="93.30" width="5" height="1" fill="#c98a98"/>
<line x1="35.3" y1="25.5" x2="35.3" y2="160.5" stroke="#666" stroke-width="0.7"/>
<line x1="33.8" y1="25.50" x2="35.3" y2="25.50" stroke="#555" stroke-width="0.7"/>
<text class="t" x="30.8" y="27.70" font-size="6.0" text-anchor="end" fill="#1a1a1a">100 %</text>
<line x1="33.8" y1="32.25" x2="35.3" y2="32.25" stroke="#555" stroke-width="0.7"/>
<text class="t" x="30.8" y="34.45" font-size="6.0" text-anchor="end" fill="#1a1a1a">90 %</text>
<line x1="33.8" y1="39.00" x2="35.3" y2="39.00" stroke="#555" stroke-width="0.7"/>
<text class="t" x="30.8" y="41.20" font-size="6.0" text-anchor="end" fill="#1a1a1a">80 %</text>
<line x1="33.8" y1="45.75" x2="35.3" y2="45.75" stroke="#555" stroke-width="0.7"/>
<text class="t" x="30.8" y="47.95" font-size="6.0" text-anchor="end" fill="#1a1a1a">70 %</text>
<line x1="33.8" y1="52.50" x2="35.3" y2="52.50" stroke="#555" stroke-width="0.7"/>
<text class="t" x="30.8" y="54.70" font-size="6.0" text-anchor="end" fill="#1a1a1a">60 %</text>
<line x1="33.8" y1="59.25" x2="35.3" y2="59.25" stroke="#555" stroke-width="0.7"/>
<text class="t" x="30.8" y="61.45" font-size="6.0" text-anchor="end" fill="#1a1a1a">50 %</text>
<line x1="33.8" y1="66.00" x2="35.3" y2="66.00" stroke="#555" stroke-width="0.7"/>
<text class="t" x="30.8" y="68.20" font-size="6.0" text-anchor="end" fill="#1a1a1a">40 %</text>
<line x1="33.8" y1="72.75" x2="35.3" y2="72.75" stroke="#555" stroke-width="0.7"/>
<text class="t" x="30.8" y="74.95" font-size="6.0" text-anchor="end" fill="#1a1a1a">30 %</text>
<line x1="33.8" y1="79.50" x2="35.3" y2="79.50" stroke="#555" stroke-width="0.7"/>
<text class="t" x="30.8" y="81.70" font-size="6.0" text-anchor="end" fill="#1a1a1a">20 %</text>
<line x1="33.8" y1="86.25" x2="35.3" y2="86.25" stroke="#555" stroke-width="0.7"/>
<text class="t" x="30.8" y="88.45" font-size="6.0" text-anchor="end" fill="#1a1a1a">10 %</text>
<line x1="33.8" y1="93.00" x2="35.3" y2="93.00" stroke="#555" stroke-width="0.7"/>
<text class="t" x="30.8" y="95.20" font-size="6.0" text-anchor="end" fill="#1a1a1a">0 %</text>
<line x1="33.8" y1="99.75" x2="35.3" y2="99.75" stroke="#555" stroke-width="0.7"/>
<text class="t" x="30.8" y="101.95" font-size="6.0" text-anchor="end" fill="#1a1a1a">10 %</text>
<line x1="33.8" y1="106.50" x2="35.3" y2="106.50" stroke="#555" stroke-width="0.7"/>
<text class="t" x="30.8" y="108.70" font-size="6.0" text-anchor="end" fill="#1a1a1a">20 %</text>
<line x1="33.8" y1="113.25" x2="35.3" y2="113.25" stroke="#555" stroke-width="0.7"/>
<text class="t" x="30.8" y="115.45" font-size="6.0" text-anchor="end" fill="#1a1a1a">30 %</text>
<line x1="33.8" y1="120.00" x2="35.3" y2="120.00" stroke="#555" stroke-width="0.7"/>
<text class="t" x="30.8" y="122.20" font-size="6.0" text-anchor="end" fill="#1a1a1a">40 %</text>
<line x1="33.8" y1="126.75" x2="35.3" y2="126.75" stroke="#555" stroke-width="0.7"/>
<text class="t" x="30.8" y="128.95" font-size="6.0" text-anchor="end" fill="#1a1a1a">50 %</text>
<line x1="33.8" y1="133.50" x2="35.3" y2="133.50" stroke="#555" stroke-width="0.7"/>
<text class="t" x="30.8" y="135.70" font-size="6.0" text-anchor="end" fill="#1a1a1a">60 %</text>
<line x1="33.8" y1="140.25" x2="35.3" y2="140.25" stroke="#555" stroke-width="0.7"/>
<text class="t" x="30.8" y="142.45" font-size="6.0" text-anchor="end" fill="#1a1a1a">70 %</text>
<line x1="33.8" y1="147.00" x2="35.3" y2="147.00" stroke="#555" stroke-width="0.7"/>
<text class="t" x="30.8" y="149.20" font-size="6.0" text-anchor="end" fill="#1a1a1a">80 %</text>
<line x1="33.8" y1="153.75" x2="35.3" y2="153.75" stroke="#555" stroke-width="0.7"/>
<text class="t" x="30.8" y="155.95" font-size="6.0" text-anchor="end" fill="#1a1a1a">90 %</text>
<line x1="33.8" y1="160.50" x2="35.3" y2="160.50" stroke="#555" stroke-width="0.7"/>
<text class="t" x="30.8" y="162.70" font-size="6.0" text-anchor="end" fill="#1a1a1a">100 %</text>
<text class="t" x="46.00" y="176.00" font-size="6.0" text-anchor="middle" fill="#1a1a1a">1</text>
<text class="t" x="63.40" y="167.50" font-size="6.0" text-anchor="middle" fill="#1a1a1a">2</text>
<text class="t" x="79.40" y="176.00" font-size="6.0" text-anchor="middle" fill="#1a1a1a">3</text>
<text class="t" x="93.40" y="167.50" font-size="6.0" text-anchor="middle" fill="#1a1a1a">4</text>
<text class="t" x="106.95" y="176.00" font-size="6.0" text-anchor="middle" fill="#1a1a1a">5</text>
<text class="t" x="120.00" y="167.50" font-size="6.0" text-anchor="middle" fill="#1a1a1a">6</text>
<text class="t" x="131.95" y="176.00" font-size="6.0" text-anchor="middle" fill="#1a1a1a">7</text>
<text class="t" x="142.90" y="167.50" font-size="6.0" text-anchor="middle" fill="#1a1a1a">8</text>
<text class="t" x="153.05" y="176.00" font-size="6.0" text-anchor="middle" fill="#1a1a1a">9</text>
<text class="t" x="162.85" y="167.50" font-size="6.0" text-anchor="middle" fill="#1a1a1a">10</text>
<text class="t" x="172.70" y="176.00" font-size="6.0" text-anchor="middle" fill="#1a1a1a">11</text>
<text class="t" x="182.65" y="167.50" font-size="6.0" text-anchor="middle" fill="#1a1a1a">12</text>
<text class="t" x="191.90" y="176.00" font-size="6.0" text-anchor="middle" fill="#1a1a1a">13</text>
<text class="t" x="199.60" y="167.50" font-size="6.0" text-anchor="middle" fill="#1a1a1a">14</text>
<text class="t" x="206.90" y="176.00" font-size="6.0" text-anchor="middle" fill="#1a1a1a">15</text>
<text class="t" x="214.00" y="167.50" font-size="6.0" text-anchor="middle" fill="#1a1a1a">16</text>
<text class="t" x="220.50" y="176.00" font-size="6.0" text-anchor="middle" fill="#1a1a1a">17</text>
<text class="t" x="225.75" y="167.50" font-size="6.0" text-anchor="middle" fill="#1a1a1a">18</text>
<text class="t" x="231.20" y="176.00" font-size="6.0" text-anchor="middle" fill="#1a1a1a">19</text>
<text class="t" x="235.10" y="167.50" font-size="6.0" text-anchor="middle" fill="#1a1a1a">20</text>
<text class="t" x="238.80" y="176.00" font-size="6.0" text-anchor="middle" fill="#1a1a1a">21</text>
<text class="t" x="241.90" y="167.50" font-size="6.0" text-anchor="middle" fill="#1a1a1a">22</text>
<text class="t" x="250.40" y="176.00" font-size="6.0" text-anchor="middle" fill="#1a1a1a">X</text>
<text class="t" x="258.20" y="167.50" font-size="6.0" text-anchor="middle" fill="#1a1a1a">Y</text>
<text class="b" x="5" y="196.3" font-size="9.2" font-weight="bold" fill="#111">B</text>
<text x="240" y="205.3" font-size="5.9" fill="#222" class="t">n = 40</text>
<rect x="37.0" y="208.5" width="18.00" height="135.0" fill="#4d5367"/>
<rect x="54.40" y="208.5" width="0.6" height="135.0" fill="#3b4050"/>
<rect x="37.00" y="208.5" width="0.5" height="135.0" fill="#3b4050"/>
<rect x="55.0" y="208.5" width="16.80" height="135.0" fill="#cfced5"/>
<rect x="55.0" y="208.5" width="6.50" height="135.0" fill="#e5e5e9"/>
<rect x="55.10" y="208.5" width="1.0" height="135.0" fill="#ececf0"/>
<rect x="71.8" y="208.5" width="15.20" height="135.0" fill="#4d5367"/>
<rect x="86.40" y="208.5" width="0.6" height="135.0" fill="#3b4050"/>
<rect x="71.80" y="208.5" width="0.5" height="135.0" fill="#3b4050"/>
<rect x="87.0" y="208.5" width="12.80" height="135.0" fill="#cfced5"/>
<rect x="87.0" y="208.5" width="3.20" height="135.0" fill="#e5e5e9"/>
<rect x="87.10" y="208.5" width="1.0" height="135.0" fill="#ececf0"/>
<rect x="99.8" y="208.5" width="14.30" height="135.0" fill="#4d5367"/>
<rect x="113.50" y="208.5" width="0.6" height="135.0" fill="#3b4050"/>
<rect x="99.80" y="208.5" width="0.5" height="135.0" fill="#3b4050"/>
<rect x="114.1" y="208.5" width="11.80" height="135.0" fill="#cfced5"/>
<rect x="114.1" y="208.5" width="3.80" height="135.0" fill="#e5e5e9"/>
<rect x="114.20" y="208.5" width="1.0" height="135.0" fill="#ececf0"/>
<rect x="125.9" y="208.5" width="12.10" height="135.0" fill="#4d5367"/>
<rect x="137.40" y="208.5" width="0.6" height="135.0" fill="#3b4050"/>
<rect x="125.90" y="208.5" width="0.5" height="135.0" fill="#3b4050"/>
<rect x="138.0" y="208.5" width="9.80" height="135.0" fill="#cfced5"/>
<rect x="138.0" y="208.5" width="2.60" height="135.0" fill="#e5e5e9"/>
<rect x="138.10" y="208.5" width="1.0" height="135.0" fill="#ececf0"/>
<rect x="147.8" y="208.5" width="10.50" height="135.0" fill="#4d5367"/>
<rect x="157.70" y="208.5" width="0.6" height="135.0" fill="#3b4050"/>
<rect x="147.80" y="208.5" width="0.5" height="135.0" fill="#3b4050"/>
<rect x="158.3" y="208.5" width="9.10" height="135.0" fill="#cfced5"/>
<rect x="158.3" y="208.5" width="2.60" height="135.0" fill="#e5e5e9"/>
<rect x="158.40" y="208.5" width="1.0" height="135.0" fill="#ececf0"/>
<rect x="167.4" y="208.5" width="10.60" height="135.0" fill="#4d5367"/>
<rect x="177.40" y="208.5" width="0.6" height="135.0" fill="#3b4050"/>
<rect x="167.40" y="208.5" width="0.5" height="135.0" fill="#3b4050"/>
<rect x="178.0" y="208.5" width="9.30" height="135.0" fill="#cfced5"/>
<rect x="178.0" y="208.5" width="2.20" height="135.0" fill="#e5e5e9"/>
<rect x="178.10" y="208.5" width="1.0" height="135.0" fill="#ececf0"/>
<rect x="187.3" y="208.5" width="9.20" height="135.0" fill="#4d5367"/>
<rect x="195.90" y="208.5" width="0.6" height="135.0" fill="#3b4050"/>
<rect x="187.30" y="208.5" width="0.5" height="135.0" fill="#3b4050"/>
<rect x="196.5" y="208.5" width="6.20" height="135.0" fill="#cfced5"/>
<rect x="196.5" y="208.5" width="0.50" height="135.0" fill="#e5e5e9"/>
<rect x="196.60" y="208.5" width="1.0" height="135.0" fill="#ececf0"/>
<rect x="202.7" y="208.5" width="8.40" height="135.0" fill="#4d5367"/>
<rect x="210.50" y="208.5" width="0.6" height="135.0" fill="#3b4050"/>
<rect x="202.70" y="208.5" width="0.5" height="135.0" fill="#3b4050"/>
<rect x="211.1" y="208.5" width="5.80" height="135.0" fill="#cfced5"/>
<rect x="211.1" y="208.5" width="2.50" height="135.0" fill="#e5e5e9"/>
<rect x="211.20" y="208.5" width="1.0" height="135.0" fill="#ececf0"/>
<rect x="216.9" y="208.5" width="6.60" height="135.0" fill="#4d5367"/>
<rect x="222.90" y="208.5" width="0.6" height="135.0" fill="#3b4050"/>
<rect x="216.90" y="208.5" width="0.5" height="135.0" fill="#3b4050"/>
<rect x="223.5" y="208.5" width="4.50" height="135.0" fill="#cfced5"/>
<rect x="223.5" y="208.5" width="1.50" height="135.0" fill="#e5e5e9"/>
<rect x="223.60" y="208.5" width="1.0" height="135.0" fill="#ececf0"/>
<rect x="228.0" y="208.5" width="5.00" height="135.0" fill="#4d5367"/>
<rect x="232.40" y="208.5" width="0.6" height="135.0" fill="#3b4050"/>
<rect x="228.00" y="208.5" width="0.5" height="135.0" fill="#3b4050"/>
<rect x="233.0" y="208.5" width="3.60" height="135.0" fill="#cfced5"/>
<rect x="233.0" y="208.5" width="1.90" height="135.0" fill="#e5e5e9"/>
<rect x="233.10" y="208.5" width="1.0" height="135.0" fill="#ececf0"/>
<rect x="236.6" y="208.5" width="3.70" height="135.0" fill="#4d5367"/>
<rect x="239.70" y="208.5" width="0.6" height="135.0" fill="#3b4050"/>
<rect x="236.60" y="208.5" width="0.5" height="135.0" fill="#3b4050"/>
<rect x="240.3" y="208.5" width="3.70" height="135.0" fill="#cfced5"/>
<rect x="240.3" y="208.5" width="0.60" height="135.0" fill="#e5e5e9"/>
<rect x="240.40" y="208.5" width="1.0" height="135.0" fill="#ececf0"/>
<rect x="244.0" y="208.5" width="12.70" height="135.0" fill="#4d5367"/>
<rect x="256.10" y="208.5" width="0.6" height="135.0" fill="#3b4050"/>
<rect x="244.00" y="208.5" width="0.5" height="135.0" fill="#3b4050"/>
<rect x="256.7" y="208.5" width="2.90" height="135.0" fill="#cfced5"/>
<rect x="256.7" y="208.5" width="0.60" height="135.0" fill="#e5e5e9"/>
<rect x="256.80" y="208.5" width="1.0" height="135.0" fill="#ececf0"/>
<rect x="37.0" y="214.75" width="18.00" height="0.9" fill="#949bac"/>
<rect x="55.0" y="214.75" width="16.80" height="0.9" fill="#ececf1"/>
<rect x="71.8" y="214.75" width="15.20" height="0.9" fill="#949bac"/>
<rect x="87.0" y="214.75" width="12.80" height="0.9" fill="#ececf1"/>
<rect x="99.8" y="214.75" width="14.30" height="0.9" fill="#949bac"/>
<rect x="114.1" y="214.75" width="11.80" height="0.9" fill="#ececf1"/>
<rect x="125.9" y="214.75" width="12.10" height="0.9" fill="#949bac"/>
<rect x="138.0" y="214.75" width="9.80" height="0.9" fill="#ececf1"/>
<rect x="147.8" y="214.75" width="10.50" height="0.9" fill="#949bac"/>
<rect x="158.3" y="214.75" width="9.10" height="0.9" fill="#ececf1"/>
<rect x="167.4" y="214.75" width="10.60" height="0.9" fill="#949bac"/>
<rect x="178.0" y="214.75" width="9.30" height="0.9" fill="#ececf1"/>
<rect x="187.3" y="214.75" width="9.20" height="0.9" fill="#949bac"/>
<rect x="196.5" y="214.75" width="6.20" height="0.9" fill="#ececf1"/>
<rect x="202.7" y="214.75" width="8.40" height="0.9" fill="#949bac"/>
<rect x="211.1" y="214.75" width="5.80" height="0.9" fill="#ececf1"/>
<rect x="216.9" y="214.75" width="6.60" height="0.9" fill="#949bac"/>
<rect x="223.5" y="214.75" width="4.50" height="0.9" fill="#ececf1"/>
<rect x="228.0" y="214.75" width="5.00" height="0.9" fill="#949bac"/>
<rect x="233.0" y="214.75" width="3.60" height="0.9" fill="#ececf1"/>
<rect x="236.6" y="214.75" width="3.70" height="0.9" fill="#949bac"/>
<rect x="240.3" y="214.75" width="3.70" height="0.9" fill="#ececf1"/>
<rect x="244.0" y="214.75" width="12.70" height="0.9" fill="#949bac"/>
<rect x="256.7" y="214.75" width="2.90" height="0.9" fill="#ececf1"/>
<rect x="37.0" y="221.50" width="18.00" height="0.9" fill="#949bac"/>
<rect x="55.0" y="221.50" width="16.80" height="0.9" fill="#ececf1"/>
<rect x="71.8" y="221.50" width="15.20" height="0.9" fill="#949bac"/>
<rect x="87.0" y="221.50" width="12.80" height="0.9" fill="#ececf1"/>
<rect x="99.8" y="221.50" width="14.30" height="0.9" fill="#949bac"/>
<rect x="114.1" y="221.50" width="11.80" height="0.9" fill="#ececf1"/>
<rect x="125.9" y="221.50" width="12.10" height="0.9" fill="#949bac"/>
<rect x="138.0" y="221.50" width="9.80" height="0.9" fill="#ececf1"/>
<rect x="147.8" y="221.50" width="10.50" height="0.9" fill="#949bac"/>
<rect x="158.3" y="221.50" width="9.10" height="0.9" fill="#ececf1"/>
<rect x="167.4" y="221.50" width="10.60" height="0.9" fill="#949bac"/>
<rect x="178.0" y="221.50" width="9.30" height="0.9" fill="#ececf1"/>
<rect x="187.3" y="221.50" width="9.20" height="0.9" fill="#949bac"/>
<rect x="196.5" y="221.50" width="6.20" height="0.9" fill="#ececf1"/>
<rect x="202.7" y="221.50" width="8.40" height="0.9" fill="#949bac"/>
<rect x="211.1" y="221.50" width="5.80" height="0.9" fill="#ececf1"/>
<rect x="216.9" y="221.50" width="6.60" height="0.9" fill="#949bac"/>
<rect x="223.5" y="221.50" width="4.50" height="0.9" fill="#ececf1"/>
<rect x="228.0" y="221.50" width="5.00" height="0.9" fill="#949bac"/>
<rect x="233.0" y="221.50" width="3.60" height="0.9" fill="#ececf1"/>
<rect x="236.6" y="221.50" width="3.70" height="0.9" fill="#949bac"/>
<rect x="240.3" y="221.50" width="3.70" height="0.9" fill="#ececf1"/>
<rect x="244.0" y="221.50" width="12.70" height="0.9" fill="#949bac"/>
<rect x="256.7" y="221.50" width="2.90" height="0.9" fill="#ececf1"/>
<rect x="37.0" y="228.25" width="18.00" height="0.9" fill="#949bac"/>
<rect x="55.0" y="228.25" width="16.80" height="0.9" fill="#ececf1"/>
<rect x="71.8" y="228.25" width="15.20" height="0.9" fill="#949bac"/>
<rect x="87.0" y="228.25" width="12.80" height="0.9" fill="#ececf1"/>
<rect x="99.8" y="228.25" width="14.30" height="0.9" fill="#949bac"/>
<rect x="114.1" y="228.25" width="11.80" height="0.9" fill="#ececf1"/>
<rect x="125.9" y="228.25" width="12.10" height="0.9" fill="#949bac"/>
<rect x="138.0" y="228.25" width="9.80" height="0.9" fill="#ececf1"/>
<rect x="147.8" y="228.25" width="10.50" height="0.9" fill="#949bac"/>
<rect x="158.3" y="228.25" width="9.10" height="0.9" fill="#ececf1"/>
<rect x="167.4" y="228.25" width="10.60" height="0.9" fill="#949bac"/>
<rect x="178.0" y="228.25" width="9.30" height="0.9" fill="#ececf1"/>
<rect x="187.3" y="228.25" width="9.20" height="0.9" fill="#949bac"/>
<rect x="196.5" y="228.25" width="6.20" height="0.9" fill="#ececf1"/>
<rect x="202.7" y="228.25" width="8.40" height="0.9" fill="#949bac"/>
<rect x="211.1" y="228.25" width="5.80" height="0.9" fill="#ececf1"/>
<rect x="216.9" y="228.25" width="6.60" height="0.9" fill="#949bac"/>
<rect x="223.5" y="228.25" width="4.50" height="0.9" fill="#ececf1"/>
<rect x="228.0" y="228.25" width="5.00" height="0.9" fill="#949bac"/>
<rect x="233.0" y="228.25" width="3.60" height="0.9" fill="#ececf1"/>
<rect x="236.6" y="228.25" width="3.70" height="0.9" fill="#949bac"/>
<rect x="240.3" y="228.25" width="3.70" height="0.9" fill="#ececf1"/>
<rect x="244.0" y="228.25" width="12.70" height="0.9" fill="#949bac"/>
<rect x="256.7" y="228.25" width="2.90" height="0.9" fill="#ececf1"/>
<rect x="37.0" y="235.00" width="18.00" height="0.9" fill="#949bac"/>
<rect x="55.0" y="235.00" width="16.80" height="0.9" fill="#ececf1"/>
<rect x="71.8" y="235.00" width="15.20" height="0.9" fill="#949bac"/>
<rect x="87.0" y="235.00" width="12.80" height="0.9" fill="#ececf1"/>
<rect x="99.8" y="235.00" width="14.30" height="0.9" fill="#949bac"/>
<rect x="114.1" y="235.00" width="11.80" height="0.9" fill="#ececf1"/>
<rect x="125.9" y="235.00" width="12.10" height="0.9" fill="#949bac"/>
<rect x="138.0" y="235.00" width="9.80" height="0.9" fill="#ececf1"/>
<rect x="147.8" y="235.00" width="10.50" height="0.9" fill="#949bac"/>
<rect x="158.3" y="235.00" width="9.10" height="0.9" fill="#ececf1"/>
<rect x="167.4" y="235.00" width="10.60" height="0.9" fill="#949bac"/>
<rect x="178.0" y="235.00" width="9.30" height="0.9" fill="#ececf1"/>
<rect x="187.3" y="235.00" width="9.20" height="0.9" fill="#949bac"/>
<rect x="196.5" y="235.00" width="6.20" height="0.9" fill="#ececf1"/>
<rect x="202.7" y="235.00" width="8.40" height="0.9" fill="#949bac"/>
<rect x="211.1" y="235.00" width="5.80" height="0.9" fill="#ececf1"/>
<rect x="216.9" y="235.00" width="6.60" height="0.9" fill="#949bac"/>
<rect x="223.5" y="235.00" width="4.50" height="0.9" fill="#ececf1"/>
<rect x="228.0" y="235.00" width="5.00" height="0.9" fill="#949bac"/>
<rect x="233.0" y="235.00" width="3.60" height="0.9" fill="#ececf1"/>
<rect x="236.6" y="235.00" width="3.70" height="0.9" fill="#949bac"/>
<rect x="240.3" y="235.00" width="3.70" height="0.9" fill="#ececf1"/>
<rect x="244.0" y="235.00" width="12.70" height="0.9" fill="#949bac"/>
<rect x="256.7" y="235.00" width="2.90" height="0.9" fill="#ececf1"/>
<rect x="37.0" y="241.75" width="18.00" height="0.9" fill="#949bac"/>
<rect x="55.0" y="241.75" width="16.80" height="0.9" fill="#ececf1"/>
<rect x="71.8" y="241.75" width="15.20" height="0.9" fill="#949bac"/>
<rect x="87.0" y="241.75" width="12.80" height="0.9" fill="#ececf1"/>
<rect x="99.8" y="241.75" width="14.30" height="0.9" fill="#949bac"/>
<rect x="114.1" y="241.75" width="11.80" height="0.9" fill="#ececf1"/>
<rect x="125.9" y="241.75" width="12.10" height="0.9" fill="#949bac"/>
<rect x="138.0" y="241.75" width="9.80" height="0.9" fill="#ececf1"/>
<rect x="147.8" y="241.75" width="10.50" height="0.9" fill="#949bac"/>
<rect x="158.3" y="241.75" width="9.10" height="0.9" fill="#ececf1"/>
<rect x="167.4" y="241.75" width="10.60" height="0.9" fill="#949bac"/>
<rect x="178.0" y="241.75" width="9.30" height="0.9" fill="#ececf1"/>
<rect x="187.3" y="241.75" width="9.20" height="0.9" fill="#949bac"/>
<rect x="196.5" y="241.75" width="6.20" height="0.9" fill="#ececf1"/>
<rect x="202.7" y="241.75" width="8.40" height="0.9" fill="#949bac"/>
<rect x="211.1" y="241.75" width="5.80" height="0.9" fill="#ececf1"/>
<rect x="216.9" y="241.75" width="6.60" height="0.9" fill="#949bac"/>
<rect x="223.5" y="241.75" width="4.50" height="0.9" fill="#ececf1"/>
<rect x="228.0" y="241.75" width="5.00" height="0.9" fill="#949bac"/>
<rect x="233.0" y="241.75" width="3.60" height="0.9" fill="#ececf1"/>
<rect x="236.6" y="241.75" width="3.70" height="0.9" fill="#949bac"/>
<rect x="240.3" y="241.75" width="3.70" height="0.9" fill="#ececf1"/>
<rect x="244.0" y="241.75" width="12.70" height="0.9" fill="#949bac"/>
<rect x="256.7" y="241.75" width="2.90" height="0.9" fill="#ececf1"/>
<rect x="37.0" y="248.50" width="18.00" height="0.9" fill="#949bac"/>
<rect x="55.0" y="248.50" width="16.80" height="0.9" fill="#ececf1"/>
<rect x="71.8" y="248.50" width="15.20" height="0.9" fill="#949bac"/>
<rect x="87.0" y="248.50" width="12.80" height="0.9" fill="#ececf1"/>
<rect x="99.8" y="248.50" width="14.30" height="0.9" fill="#949bac"/>
<rect x="114.1" y="248.50" width="11.80" height="0.9" fill="#ececf1"/>
<rect x="125.9" y="248.50" width="12.10" height="0.9" fill="#949bac"/>
<rect x="138.0" y="248.50" width="9.80" height="0.9" fill="#ececf1"/>
<rect x="147.8" y="248.50" width="10.50" height="0.9" fill="#949bac"/>
<rect x="158.3" y="248.50" width="9.10" height="0.9" fill="#ececf1"/>
<rect x="167.4" y="248.50" width="10.60" height="0.9" fill="#949bac"/>
<rect x="178.0" y="248.50" width="9.30" height="0.9" fill="#ececf1"/>
<rect x="187.3" y="248.50" width="9.20" height="0.9" fill="#949bac"/>
<rect x="196.5" y="248.50" width="6.20" height="0.9" fill="#ececf1"/>
<rect x="202.7" y="248.50" width="8.40" height="0.9" fill="#949bac"/>
<rect x="211.1" y="248.50" width="5.80" height="0.9" fill="#ececf1"/>
<rect x="216.9" y="248.50" width="6.60" height="0.9" fill="#949bac"/>
<rect x="223.5" y="248.50" width="4.50" height="0.9" fill="#ececf1"/>
<rect x="228.0" y="248.50" width="5.00" height="0.9" fill="#949bac"/>
<rect x="233.0" y="248.50" width="3.60" height="0.9" fill="#ececf1"/>
<rect x="236.6" y="248.50" width="3.70" height="0.9" fill="#949bac"/>
<rect x="240.3" y="248.50" width="3.70" height="0.9" fill="#ececf1"/>
<rect x="244.0" y="248.50" width="12.70" height="0.9" fill="#949bac"/>
<rect x="256.7" y="248.50" width="2.90" height="0.9" fill="#ececf1"/>
<rect x="37.0" y="255.25" width="18.00" height="0.9" fill="#949bac"/>
<rect x="55.0" y="255.25" width="16.80" height="0.9" fill="#ececf1"/>
<rect x="71.8" y="255.25" width="15.20" height="0.9" fill="#949bac"/>
<rect x="87.0" y="255.25" width="12.80" height="0.9" fill="#ececf1"/>
<rect x="99.8" y="255.25" width="14.30" height="0.9" fill="#949bac"/>
<rect x="114.1" y="255.25" width="11.80" height="0.9" fill="#ececf1"/>
<rect x="125.9" y="255.25" width="12.10" height="0.9" fill="#949bac"/>
<rect x="138.0" y="255.25" width="9.80" height="0.9" fill="#ececf1"/>
<rect x="147.8" y="255.25" width="10.50" height="0.9" fill="#949bac"/>
<rect x="158.3" y="255.25" width="9.10" height="0.9" fill="#ececf1"/>
<rect x="167.4" y="255.25" width="10.60" height="0.9" fill="#949bac"/>
<rect x="178.0" y="255.25" width="9.30" height="0.9" fill="#ececf1"/>
<rect x="187.3" y="255.25" width="9.20" height="0.9" fill="#949bac"/>
<rect x="196.5" y="255.25" width="6.20" height="0.9" fill="#ececf1"/>
<rect x="202.7" y="255.25" width="8.40" height="0.9" fill="#949bac"/>
<rect x="211.1" y="255.25" width="5.80" height="0.9" fill="#ececf1"/>
<rect x="216.9" y="255.25" width="6.60" height="0.9" fill="#949bac"/>
<rect x="223.5" y="255.25" width="4.50" height="0.9" fill="#ececf1"/>
<rect x="228.0" y="255.25" width="5.00" height="0.9" fill="#949bac"/>
<rect x="233.0" y="255.25" width="3.60" height="0.9" fill="#ececf1"/>
<rect x="236.6" y="255.25" width="3.70" height="0.9" fill="#949bac"/>
<rect x="240.3" y="255.25" width="3.70" height="0.9" fill="#ececf1"/>
<rect x="244.0" y="255.25" width="12.70" height="0.9" fill="#949bac"/>
<rect x="256.7" y="255.25" width="2.90" height="0.9" fill="#ececf1"/>
<rect x="37.0" y="262.00" width="18.00" height="0.9" fill="#949bac"/>
<rect x="55.0" y="262.00" width="16.80" height="0.9" fill="#ececf1"/>
<rect x="71.8" y="262.00" width="15.20" height="0.9" fill="#949bac"/>
<rect x="87.0" y="262.00" width="12.80" height="0.9" fill="#ececf1"/>
<rect x="99.8" y="262.00" width="14.30" height="0.9" fill="#949bac"/>
<rect x="114.1" y="262.00" width="11.80" height="0.9" fill="#ececf1"/>
<rect x="125.9" y="262.00" width="12.10" height="0.9" fill="#949bac"/>
<rect x="138.0" y="262.00" width="9.80" height="0.9" fill="#ececf1"/>
<rect x="147.8" y="262.00" width="10.50" height="0.9" fill="#949bac"/>
<rect x="158.3" y="262.00" width="9.10" height="0.9" fill="#ececf1"/>
<rect x="167.4" y="262.00" width="10.60" height="0.9" fill="#949bac"/>
<rect x="178.0" y="262.00" width="9.30" height="0.9" fill="#ececf1"/>
<rect x="187.3" y="262.00" width="9.20" height="0.9" fill="#949bac"/>
<rect x="196.5" y="262.00" width="6.20" height="0.9" fill="#ececf1"/>
<rect x="202.7" y="262.00" width="8.40" height="0.9" fill="#949bac"/>
<rect x="211.1" y="262.00" width="5.80" height="0.9" fill="#ececf1"/>
<rect x="216.9" y="262.00" width="6.60" height="0.9" fill="#949bac"/>
<rect x="223.5" y="262.00" width="4.50" height="0.9" fill="#ececf1"/>
<rect x="228.0" y="262.00" width="5.00" height="0.9" fill="#949bac"/>
<rect x="233.0" y="262.00" width="3.60" height="0.9" fill="#ececf1"/>
<rect x="236.6" y="262.00" width="3.70" height="0.9" fill="#949bac"/>
<rect x="240.3" y="262.00" width="3.70" height="0.9" fill="#ececf1"/>
<rect x="244.0" y="262.00" width="12.70" height="0.9" fill="#949bac"/>
<rect x="256.7" y="262.00" width="2.90" height="0.9" fill="#ececf1"/>
<rect x="37.0" y="268.75" width="18.00" height="0.9" fill="#949bac"/>
<rect x="55.0" y="268.75" width="16.80" height="0.9" fill="#ececf1"/>
<rect x="71.8" y="268.75" width="15.20" height="0.9" fill="#949bac"/>
<rect x="87.0" y="268.75" width="12.80" height="0.9" fill="#ececf1"/>
<rect x="99.8" y="268.75" width="14.30" height="0.9" fill="#949bac"/>
<rect x="114.1" y="268.75" width="11.80" height="0.9" fill="#ececf1"/>
<rect x="125.9" y="268.75" width="12.10" height="0.9" fill="#949bac"/>
<rect x="138.0" y="268.75" width="9.80" height="0.9" fill="#ececf1"/>
<rect x="147.8" y="268.75" width="10.50" height="0.9" fill="#949bac"/>
<rect x="158.3" y="268.75" width="9.10" height="0.9" fill="#ececf1"/>
<rect x="167.4" y="268.75" width="10.60" height="0.9" fill="#949bac"/>
<rect x="178.0" y="268.75" width="9.30" height="0.9" fill="#ececf1"/>
<rect x="187.3" y="268.75" width="9.20" height="0.9" fill="#949bac"/>
<rect x="196.5" y="268.75" width="6.20" height="0.9" fill="#ececf1"/>
<rect x="202.7" y="268.75" width="8.40" height="0.9" fill="#949bac"/>
<rect x="211.1" y="268.75" width="5.80" height="0.9" fill="#ececf1"/>
<rect x="216.9" y="268.75" width="6.60" height="0.9" fill="#949bac"/>
<rect x="223.5" y="268.75" width="4.50" height="0.9" fill="#ececf1"/>
<rect x="228.0" y="268.75" width="5.00" height="0.9" fill="#949bac"/>
<rect x="233.0" y="268.75" width="3.60" height="0.9" fill="#ececf1"/>
<rect x="236.6" y="268.75" width="3.70" height="0.9" fill="#949bac"/>
<rect x="240.3" y="268.75" width="3.70" height="0.9" fill="#ececf1"/>
<rect x="244.0" y="268.75" width="12.70" height="0.9" fill="#949bac"/>
<rect x="256.7" y="268.75" width="2.90" height="0.9" fill="#ececf1"/>
<rect x="37.0" y="275.50" width="18.00" height="0.9" fill="#949bac"/>
<rect x="55.0" y="275.50" width="16.80" height="0.9" fill="#ececf1"/>
<rect x="71.8" y="275.50" width="15.20" height="0.9" fill="#949bac"/>
<rect x="87.0" y="275.50" width="12.80" height="0.9" fill="#ececf1"/>
<rect x="99.8" y="275.50" width="14.30" height="0.9" fill="#949bac"/>
<rect x="114.1" y="275.50" width="11.80" height="0.9" fill="#ececf1"/>
<rect x="125.9" y="275.50" width="12.10" height="0.9" fill="#949bac"/>
<rect x="138.0" y="275.50" width="9.80" height="0.9" fill="#ececf1"/>
<rect x="147.8" y="275.50" width="10.50" height="0.9" fill="#949bac"/>
<rect x="158.3" y="275.50" width="9.10" height="0.9" fill="#ececf1"/>
<rect x="167.4" y="275.50" width="10.60" height="0.9" fill="#949bac"/>
<rect x="178.0" y="275.50" width="9.30" height="0.9" fill="#ececf1"/>
<rect x="187.3" y="275.50" width="9.20" height="0.9" fill="#949bac"/>
<rect x="196.5" y="275.50" width="6.20" height="0.9" fill="#ececf1"/>
<rect x="202.7" y="275.50" width="8.40" height="0.9" fill="#949bac"/>
<rect x="211.1" y="275.50" width="5.80" height="0.9" fill="#ececf1"/>
<rect x="216.9" y="275.50" width="6.60" height="0.9" fill="#949bac"/>
<rect x="223.5" y="275.50" width="4.50" height="0.9" fill="#ececf1"/>
<rect x="228.0" y="275.50" width="5.00" height="0.9" fill="#949bac"/>
<rect x="233.0" y="275.50" width="3.60" height="0.9" fill="#ececf1"/>
<rect x="236.6" y="275.50" width="3.70" height="0.9" fill="#949bac"/>
<rect x="240.3" y="275.50" width="3.70" height="0.9" fill="#ececf1"/>
<rect x="244.0" y="275.50" width="12.70" height="0.9" fill="#949bac"/>
<rect x="256.7" y="275.50" width="2.90" height="0.9" fill="#ececf1"/>
<rect x="37.0" y="282.25" width="18.00" height="0.9" fill="#949bac"/>
<rect x="55.0" y="282.25" width="16.80" height="0.9" fill="#ececf1"/>
<rect x="71.8" y="282.25" width="15.20" height="0.9" fill="#949bac"/>
<rect x="87.0" y="282.25" width="12.80" height="0.9" fill="#ececf1"/>
<rect x="99.8" y="282.25" width="14.30" height="0.9" fill="#949bac"/>
<rect x="114.1" y="282.25" width="11.80" height="0.9" fill="#ececf1"/>
<rect x="125.9" y="282.25" width="12.10" height="0.9" fill="#949bac"/>
<rect x="138.0" y="282.25" width="9.80" height="0.9" fill="#ececf1"/>
<rect x="147.8" y="282.25" width="10.50" height="0.9" fill="#949bac"/>
<rect x="158.3" y="282.25" width="9.10" height="0.9" fill="#ececf1"/>
<rect x="167.4" y="282.25" width="10.60" height="0.9" fill="#949bac"/>
<rect x="178.0" y="282.25" width="9.30" height="0.9" fill="#ececf1"/>
<rect x="187.3" y="282.25" width="9.20" height="0.9" fill="#949bac"/>
<rect x="196.5" y="282.25" width="6.20" height="0.9" fill="#ececf1"/>
<rect x="202.7" y="282.25" width="8.40" height="0.9" fill="#949bac"/>
<rect x="211.1" y="282.25" width="5.80" height="0.9" fill="#ececf1"/>
<rect x="216.9" y="282.25" width="6.60" height="0.9" fill="#949bac"/>
<rect x="223.5" y="282.25" width="4.50" height="0.9" fill="#ececf1"/>
<rect x="228.0" y="282.25" width="5.00" height="0.9" fill="#949bac"/>
<rect x="233.0" y="282.25" width="3.60" height="0.9" fill="#ececf1"/>
<rect x="236.6" y="282.25" width="3.70" height="0.9" fill="#949bac"/>
<rect x="240.3" y="282.25" width="3.70" height="0.9" fill="#ececf1"/>
<rect x="244.0" y="282.25" width="12.70" height="0.9" fill="#949bac"/>
<rect x="256.7" y="282.25" width="2.90" height="0.9" fill="#ececf1"/>
<rect x="37.0" y="289.00" width="18.00" height="0.9" fill="#949bac"/>
<rect x="55.0" y="289.00" width="16.80" height="0.9" fill="#ececf1"/>
<rect x="71.8" y="289.00" width="15.20" height="0.9" fill="#949bac"/>
<rect x="87.0" y="289.00" width="12.80" height="0.9" fill="#ececf1"/>
<rect x="99.8" y="289.00" width="14.30" height="0.9" fill="#949bac"/>
<rect x="114.1" y="289.00" width="11.80" height="0.9" fill="#ececf1"/>
<rect x="125.9" y="289.00" width="12.10" height="0.9" fill="#949bac"/>
<rect x="138.0" y="289.00" width="9.80" height="0.9" fill="#ececf1"/>
<rect x="147.8" y="289.00" width="10.50" height="0.9" fill="#949bac"/>
<rect x="158.3" y="289.00" width="9.10" height="0.9" fill="#ececf1"/>
<rect x="167.4" y="289.00" width="10.60" height="0.9" fill="#949bac"/>
<rect x="178.0" y="289.00" width="9.30" height="0.9" fill="#ececf1"/>
<rect x="187.3" y="289.00" width="9.20" height="0.9" fill="#949bac"/>
<rect x="196.5" y="289.00" width="6.20" height="0.9" fill="#ececf1"/>
<rect x="202.7" y="289.00" width="8.40" height="0.9" fill="#949bac"/>
<rect x="211.1" y="289.00" width="5.80" height="0.9" fill="#ececf1"/>
<rect x="216.9" y="289.00" width="6.60" height="0.9" fill="#949bac"/>
<rect x="223.5" y="289.00" width="4.50" height="0.9" fill="#ececf1"/>
<rect x="228.0" y="289.00" width="5.00" height="0.9" fill="#949bac"/>
<rect x="233.0" y="289.00" width="3.60" height="0.9" fill="#ececf1"/>
<rect x="236.6" y="289.00" width="3.70" height="0.9" fill="#949bac"/>
<rect x="240.3" y="289.00" width="3.70" height="0.9" fill="#ececf1"/>
<rect x="244.0" y="289.00" width="12.70" height="0.9" fill="#949bac"/>
<rect x="256.7" y="289.00" width="2.90" height="0.9" fill="#ececf1"/>
<rect x="37.0" y="295.75" width="18.00" height="0.9" fill="#949bac"/>
<rect x="55.0" y="295.75" width="16.80" height="0.9" fill="#ececf1"/>
<rect x="71.8" y="295.75" width="15.20" height="0.9" fill="#949bac"/>
<rect x="87.0" y="295.75" width="12.80" height="0.9" fill="#ececf1"/>
<rect x="99.8" y="295.75" width="14.30" height="0.9" fill="#949bac"/>
<rect x="114.1" y="295.75" width="11.80" height="0.9" fill="#ececf1"/>
<rect x="125.9" y="295.75" width="12.10" height="0.9" fill="#949bac"/>
<rect x="138.0" y="295.75" width="9.80" height="0.9" fill="#ececf1"/>
<rect x="147.8" y="295.75" width="10.50" height="0.9" fill="#949bac"/>
<rect x="158.3" y="295.75" width="9.10" height="0.9" fill="#ececf1"/>
<rect x="167.4" y="295.75" width="10.60" height="0.9" fill="#949bac"/>
<rect x="178.0" y="295.75" width="9.30" height="0.9" fill="#ececf1"/>
<rect x="187.3" y="295.75" width="9.20" height="0.9" fill="#949bac"/>
<rect x="196.5" y="295.75" width="6.20" height="0.9" fill="#ececf1"/>
<rect x="202.7" y="295.75" width="8.40" height="0.9" fill="#949bac"/>
<rect x="211.1" y="295.75" width="5.80" height="0.9" fill="#ececf1"/>
<rect x="216.9" y="295.75" width="6.60" height="0.9" fill="#949bac"/>
<rect x="223.5" y="295.75" width="4.50" height="0.9" fill="#ececf1"/>
<rect x="228.0" y="295.75" width="5.00" height="0.9" fill="#949bac"/>
<rect x="233.0" y="295.75" width="3.60" height="0.9" fill="#ececf1"/>
<rect x="236.6" y="295.75" width="3.70" height="0.9" fill="#949bac"/>
<rect x="240.3" y="295.75" width="3.70" height="0.9" fill="#ececf1"/>
<rect x="244.0" y="295.75" width="12.70" height="0.9" fill="#949bac"/>
<rect x="256.7" y="295.75" width="2.90" height="0.9" fill="#ececf1"/>
<rect x="37.0" y="302.50" width="18.00" height="0.9" fill="#949bac"/>
<rect x="55.0" y="302.50" width="16.80" height="0.9" fill="#ececf1"/>
<rect x="71.8" y="302.50" width="15.20" height="0.9" fill="#949bac"/>
<rect x="87.0" y="302.50" width="12.80" height="0.9" fill="#ececf1"/>
<rect x="99.8" y="302.50" width="14.30" height="0.9" fill="#949bac"/>
<rect x="114.1" y="302.50" width="11.80" height="0.9" fill="#ececf1"/>
<rect x="125.9" y="302.50" width="12.10" height="0.9" fill="#949bac"/>
<rect x="138.0" y="302.50" width="9.80" height="0.9" fill="#ececf1"/>
<rect x="147.8" y="302.50" width="10.50" height="0.9" fill="#949bac"/>
<rect x="158.3" y="302.50" width="9.10" height="0.9" fill="#ececf1"/>
<rect x="167.4" y="302.50" width="10.60" height="0.9" fill="#949bac"/>
<rect x="178.0" y="302.50" width="9.30" height="0.9" fill="#ececf1"/>
<rect x="187.3" y="302.50" width="9.20" height="0.9" fill="#949bac"/>
<rect x="196.5" y="302.50" width="6.20" height="0.9" fill="#ececf1"/>
<rect x="202.7" y="302.50" width="8.40" height="0.9" fill="#949bac"/>
<rect x="211.1" y="302.50" width="5.80" height="0.9" fill="#ececf1"/>
<rect x="216.9" y="302.50" width="6.60" height="0.9" fill="#949bac"/>
<rect x="223.5" y="302.50" width="4.50" height="0.9" fill="#ececf1"/>
<rect x="228.0" y="302.50" width="5.00" height="0.9" fill="#949bac"/>
<rect x="233.0" y="302.50" width="3.60" height="0.9" fill="#ececf1"/>
<rect x="236.6" y="302.50" width="3.70" height="0.9" fill="#949bac"/>
<rect x="240.3" y="302.50" width="3.70" height="0.9" fill="#ececf1"/>
<rect x="244.0" y="302.50" width="12.70" height="0.9" fill="#949bac"/>
<rect x="256.7" y="302.50" width="2.90" height="0.9" fill="#ececf1"/>
<rect x="37.0" y="309.25" width="18.00" height="0.9" fill="#949bac"/>
<rect x="55.0" y="309.25" width="16.80" height="0.9" fill="#ececf1"/>
<rect x="71.8" y="309.25" width="15.20" height="0.9" fill="#949bac"/>
<rect x="87.0" y="309.25" width="12.80" height="0.9" fill="#ececf1"/>
<rect x="99.8" y="309.25" width="14.30" height="0.9" fill="#949bac"/>
<rect x="114.1" y="309.25" width="11.80" height="0.9" fill="#ececf1"/>
<rect x="125.9" y="309.25" width="12.10" height="0.9" fill="#949bac"/>
<rect x="138.0" y="309.25" width="9.80" height="0.9" fill="#ececf1"/>
<rect x="147.8" y="309.25" width="10.50" height="0.9" fill="#949bac"/>
<rect x="158.3" y="309.25" width="9.10" height="0.9" fill="#ececf1"/>
<rect x="167.4" y="309.25" width="10.60" height="0.9" fill="#949bac"/>
<rect x="178.0" y="309.25" width="9.30" height="0.9" fill="#ececf1"/>
<rect x="187.3" y="309.25" width="9.20" height="0.9" fill="#949bac"/>
<rect x="196.5" y="309.25" width="6.20" height="0.9" fill="#ececf1"/>
<rect x="202.7" y="309.25" width="8.40" height="0.9" fill="#949bac"/>
<rect x="211.1" y="309.25" width="5.80" height="0.9" fill="#ececf1"/>
<rect x="216.9" y="309.25" width="6.60" height="0.9" fill="#949bac"/>
<rect x="223.5" y="309.25" width="4.50" height="0.9" fill="#ececf1"/>
<rect x="228.0" y="309.25" width="5.00" height="0.9" fill="#949bac"/>
<rect x="233.0" y="309.25" width="3.60" height="0.9" fill="#ececf1"/>
<rect x="236.6" y="309.25" width="3.70" height="0.9" fill="#949bac"/>
<rect x="240.3" y="309.25" width="3.70" height="0.9" fill="#ececf1"/>
<rect x="244.0" y="309.25" width="12.70" height="0.9" fill="#949bac"/>
<rect x="256.7" y="309.25" width="2.90" height="0.9" fill="#ececf1"/>
<rect x="37.0" y="316.00" width="18.00" height="0.9" fill="#949bac"/>
<rect x="55.0" y="316.00" width="16.80" height="0.9" fill="#ececf1"/>
<rect x="71.8" y="316.00" width="15.20" height="0.9" fill="#949bac"/>
<rect x="87.0" y="316.00" width="12.80" height="0.9" fill="#ececf1"/>
<rect x="99.8" y="316.00" width="14.30" height="0.9" fill="#949bac"/>
<rect x="114.1" y="316.00" width="11.80" height="0.9" fill="#ececf1"/>
<rect x="125.9" y="316.00" width="12.10" height="0.9" fill="#949bac"/>
<rect x="138.0" y="316.00" width="9.80" height="0.9" fill="#ececf1"/>
<rect x="147.8" y="316.00" width="10.50" height="0.9" fill="#949bac"/>
<rect x="158.3" y="316.00" width="9.10" height="0.9" fill="#ececf1"/>
<rect x="167.4" y="316.00" width="10.60" height="0.9" fill="#949bac"/>
<rect x="178.0" y="316.00" width="9.30" height="0.9" fill="#ececf1"/>
<rect x="187.3" y="316.00" width="9.20" height="0.9" fill="#949bac"/>
<rect x="196.5" y="316.00" width="6.20" height="0.9" fill="#ececf1"/>
<rect x="202.7" y="316.00" width="8.40" height="0.9" fill="#949bac"/>
<rect x="211.1" y="316.00" width="5.80" height="0.9" fill="#ececf1"/>
<rect x="216.9" y="316.00" width="6.60" height="0.9" fill="#949bac"/>
<rect x="223.5" y="316.00" width="4.50" height="0.9" fill="#ececf1"/>
<rect x="228.0" y="316.00" width="5.00" height="0.9" fill="#949bac"/>
<rect x="233.0" y="316.00" width="3.60" height="0.9" fill="#ececf1"/>
<rect x="236.6" y="316.00" width="3.70" height="0.9" fill="#949bac"/>
<rect x="240.3" y="316.00" width="3.70" height="0.9" fill="#ececf1"/>
<rect x="244.0" y="316.00" width="12.70" height="0.9" fill="#949bac"/>
<rect x="256.7" y="316.00" width="2.90" height="0.9" fill="#ececf1"/>
<rect x="37.0" y="322.75" width="18.00" height="0.9" fill="#949bac"/>
<rect x="55.0" y="322.75" width="16.80" height="0.9" fill="#ececf1"/>
<rect x="71.8" y="322.75" width="15.20" height="0.9" fill="#949bac"/>
<rect x="87.0" y="322.75" width="12.80" height="0.9" fill="#ececf1"/>
<rect x="99.8" y="322.75" width="14.30" height="0.9" fill="#949bac"/>
<rect x="114.1" y="322.75" width="11.80" height="0.9" fill="#ececf1"/>
<rect x="125.9" y="322.75" width="12.10" height="0.9" fill="#949bac"/>
<rect x="138.0" y="322.75" width="9.80" height="0.9" fill="#ececf1"/>
<rect x="147.8" y="322.75" width="10.50" height="0.9" fill="#949bac"/>
<rect x="158.3" y="322.75" width="9.10" height="0.9" fill="#ececf1"/>
<rect x="167.4" y="322.75" width="10.60" height="0.9" fill="#949bac"/>
<rect x="178.0" y="322.75" width="9.30" height="0.9" fill="#ececf1"/>
<rect x="187.3" y="322.75" width="9.20" height="0.9" fill="#949bac"/>
<rect x="196.5" y="322.75" width="6.20" height="0.9" fill="#ececf1"/>
<rect x="202.7" y="322.75" width="8.40" height="0.9" fill="#949bac"/>
<rect x="211.1" y="322.75" width="5.80" height="0.9" fill="#ececf1"/>
<rect x="216.9" y="322.75" width="6.60" height="0.9" fill="#949bac"/>
<rect x="223.5" y="322.75" width="4.50" height="0.9" fill="#ececf1"/>
<rect x="228.0" y="322.75" width="5.00" height="0.9" fill="#949bac"/>
<rect x="233.0" y="322.75" width="3.60" height="0.9" fill="#ececf1"/>
<rect x="236.6" y="322.75" width="3.70" height="0.9" fill="#949bac"/>
<rect x="240.3" y="322.75" width="3.70" height="0.9" fill="#ececf1"/>
<rect x="244.0" y="322.75" width="12.70" height="0.9" fill="#949bac"/>
<rect x="256.7" y="322.75" width="2.90" height="0.9" fill="#ececf1"/>
<rect x="37.0" y="329.50" width="18.00" height="0.9" fill="#949bac"/>
<rect x="55.0" y="329.50" width="16.80" height="0.9" fill="#ececf1"/>
<rect x="71.8" y="329.50" width="15.20" height="0.9" fill="#949bac"/>
<rect x="87.0" y="329.50" width="12.80" height="0.9" fill="#ececf1"/>
<rect x="99.8" y="329.50" width="14.30" height="0.9" fill="#949bac"/>
<rect x="114.1" y="329.50" width="11.80" height="0.9" fill="#ececf1"/>
<rect x="125.9" y="329.50" width="12.10" height="0.9" fill="#949bac"/>
<rect x="138.0" y="329.50" width="9.80" height="0.9" fill="#ececf1"/>
<rect x="147.8" y="329.50" width="10.50" height="0.9" fill="#949bac"/>
<rect x="158.3" y="329.50" width="9.10" height="0.9" fill="#ececf1"/>
<rect x="167.4" y="329.50" width="10.60" height="0.9" fill="#949bac"/>
<rect x="178.0" y="329.50" width="9.30" height="0.9" fill="#ececf1"/>
<rect x="187.3" y="329.50" width="9.20" height="0.9" fill="#949bac"/>
<rect x="196.5" y="329.50" width="6.20" height="0.9" fill="#ececf1"/>
<rect x="202.7" y="329.50" width="8.40" height="0.9" fill="#949bac"/>
<rect x="211.1" y="329.50" width="5.80" height="0.9" fill="#ececf1"/>
<rect x="216.9" y="329.50" width="6.60" height="0.9" fill="#949bac"/>
<rect x="223.5" y="329.50" width="4.50" height="0.9" fill="#ececf1"/>
<rect x="228.0" y="329.50" width="5.00" height="0.9" fill="#949bac"/>
<rect x="233.0" y="329.50" width="3.60" height="0.9" fill="#ececf1"/>
<rect x="236.6" y="329.50" width="3.70" height="0.9" fill="#949bac"/>
<rect x="240.3" y="329.50" width="3.70" height="0.9" fill="#ececf1"/>
<rect x="244.0" y="329.50" width="12.70" height="0.9" fill="#949bac"/>
<rect x="256.7" y="329.50" width="2.90" height="0.9" fill="#ececf1"/>
<rect x="37.0" y="336.25" width="18.00" height="0.9" fill="#949bac"/>
<rect x="55.0" y="336.25" width="16.80" height="0.9" fill="#ececf1"/>
<rect x="71.8" y="336.25" width="15.20" height="0.9" fill="#949bac"/>
<rect x="87.0" y="336.25" width="12.80" height="0.9" fill="#ececf1"/>
<rect x="99.8" y="336.25" width="14.30" height="0.9" fill="#949bac"/>
<rect x="114.1" y="336.25" width="11.80" height="0.9" fill="#ececf1"/>
<rect x="125.9" y="336.25" width="12.10" height="0.9" fill="#949bac"/>
<rect x="138.0" y="336.25" width="9.80" height="0.9" fill="#ececf1"/>
<rect x="147.8" y="336.25" width="10.50" height="0.9" fill="#949bac"/>
<rect x="158.3" y="336.25" width="9.10" height="0.9" fill="#ececf1"/>
<rect x="167.4" y="336.25" width="10.60" height="0.9" fill="#949bac"/>
<rect x="178.0" y="336.25" width="9.30" height="0.9" fill="#ececf1"/>
<rect x="187.3" y="336.25" width="9.20" height="0.9" fill="#949bac"/>
<rect x="196.5" y="336.25" width="6.20" height="0.9" fill="#ececf1"/>
<rect x="202.7" y="336.25" width="8.40" height="0.9" fill="#949bac"/>
<rect x="211.1" y="336.25" width="5.80" height="0.9" fill="#ececf1"/>
<rect x="216.9" y="336.25" width="6.60" height="0.9" fill="#949bac"/>
<rect x="223.5" y="336.25" width="4.50" height="0.9" fill="#ececf1"/>
<rect x="228.0" y="336.25" width="5.00" height="0.9" fill="#949bac"/>
<rect x="233.0" y="336.25" width="3.60" height="0.9" fill="#ececf1"/>
<rect x="236.6" y="336.25" width="3.70" height="0.9" fill="#949bac"/>
<rect x="240.3" y="336.25" width="3.70" height="0.9" fill="#ececf1"/>
<rect x="244.0" y="336.25" width="12.70" height="0.9" fill="#949bac"/>
<rect x="256.7" y="336.25" width="2.90" height="0.9" fill="#ececf1"/>
<line x1="45.7" y1="209.44" x2="45.7" y2="343.5" stroke="#252a3a" stroke-width="1.3" stroke-dasharray="1.5 1.875"/>
<line x1="61.5" y1="209.54" x2="61.5" y2="343.5" stroke="#38383e" stroke-width="1.3" stroke-dasharray="1.3 2.075"/>
<line x1="79.6" y1="209.44" x2="79.6" y2="343.5" stroke="#252a3a" stroke-width="1.3" stroke-dasharray="1.5 1.875"/>
<line x1="90.2" y1="209.54" x2="90.2" y2="343.5" stroke="#38383e" stroke-width="1.3" stroke-dasharray="1.3 2.075"/>
<line x1="104.2" y1="209.44" x2="104.2" y2="343.5" stroke="#252a3a" stroke-width="1.3" stroke-dasharray="1.5 1.875"/>
<line x1="117.9" y1="209.54" x2="117.9" y2="343.5" stroke="#38383e" stroke-width="1.3" stroke-dasharray="1.3 2.075"/>
<line x1="130.4" y1="209.44" x2="130.4" y2="343.5" stroke="#252a3a" stroke-width="1.3" stroke-dasharray="1.5 1.875"/>
<line x1="140.6" y1="209.54" x2="140.6" y2="343.5" stroke="#38383e" stroke-width="1.3" stroke-dasharray="1.3 2.075"/>
<line x1="151.7" y1="209.44" x2="151.7" y2="343.5" stroke="#252a3a" stroke-width="1.3" stroke-dasharray="1.5 1.875"/>
<line x1="160.9" y1="209.54" x2="160.9" y2="343.5" stroke="#38383e" stroke-width="1.3" stroke-dasharray="1.3 2.075"/>
<line x1="171.0" y1="209.44" x2="171.0" y2="343.5" stroke="#252a3a" stroke-width="1.3" stroke-dasharray="1.5 1.875"/>
<line x1="180.2" y1="209.54" x2="180.2" y2="343.5" stroke="#38383e" stroke-width="1.3" stroke-dasharray="1.3 2.075"/>
<line x1="187.8" y1="209.44" x2="187.8" y2="343.5" stroke="#252a3a" stroke-width="1.3" stroke-dasharray="1.5 1.875"/>
<line x1="197.0" y1="209.54" x2="197.0" y2="343.5" stroke="#38383e" stroke-width="1.3" stroke-dasharray="1.3 2.075"/>
<line x1="203.3" y1="209.44" x2="203.3" y2="343.5" stroke="#252a3a" stroke-width="1.3" stroke-dasharray="1.5 1.875"/>
<line x1="213.6" y1="209.54" x2="213.6" y2="343.5" stroke="#38383e" stroke-width="1.3" stroke-dasharray="1.3 2.075"/>
<line x1="219.0" y1="209.44" x2="219.0" y2="343.5" stroke="#252a3a" stroke-width="1.3" stroke-dasharray="1.5 1.875"/>
<line x1="225.0" y1="209.54" x2="225.0" y2="343.5" stroke="#38383e" stroke-width="1.3" stroke-dasharray="1.3 2.075"/>
<line x1="230.5" y1="209.44" x2="230.5" y2="343.5" stroke="#252a3a" stroke-width="1.3" stroke-dasharray="1.5 1.875"/>
<line x1="234.9" y1="209.54" x2="234.9" y2="343.5" stroke="#38383e" stroke-width="1.3" stroke-dasharray="1.3 2.075"/>
<line x1="237.2" y1="209.44" x2="237.2" y2="343.5" stroke="#252a3a" stroke-width="1.3" stroke-dasharray="1.5 1.875"/>
<line x1="240.9" y1="209.54" x2="240.9" y2="343.5" stroke="#38383e" stroke-width="1.3" stroke-dasharray="1.3 2.075"/>
<line x1="250.3" y1="209.44" x2="250.3" y2="343.5" stroke="#252a3a" stroke-width="1.3" stroke-dasharray="1.5 1.875"/>
<line x1="257.3" y1="209.54" x2="257.3" y2="343.5" stroke="#38383e" stroke-width="1.3" stroke-dasharray="1.3 2.075"/>
<polygon points="37,208.5 44.6,208.5 44.3,210.5 42.5,215.0 41.3,220.0 40.2,225.0 39.4,230.0 38.6,235.0 38.2,241.5 38.0,254.0 37,254.5" fill="#e8ad6a"/>
<polygon points="47.3,208.5 55.1,208.5 55.1,219.3 47.4,219.3" fill="#e8ad6a"/>
<rect x="60" y="208.5" width="2.5" height="3.5" fill="#e8ad6a" opacity="0.35"/>
<rect x="91" y="208.5" width="9" height="4.5" fill="#e8ad6a" opacity="0.55"/>
<rect x="100" y="208.5" width="1.6" height="3" fill="#e8ad6a" opacity="0.8"/>
<rect x="104" y="208.5" width="6" height="2.8" fill="#e8ad6a" opacity="0.55"/>
<rect x="113" y="208.5" width="1.2" height="3" fill="#e8ad6a" opacity="0.6"/>
<rect x="114.2" y="208.5" width="3.8" height="12" fill="#e8ad6a" opacity="0.5"/>
<rect x="118" y="208.5" width="8" height="3" fill="#e8ad6a" opacity="0.35"/>
<rect x="136" y="208.5" width="2" height="2.5" fill="#e8ad6a" opacity="0.6"/>
<rect x="193" y="208.5" width="3.5" height="4.5" fill="#e8ad6a" opacity="0.55"/>
<rect x="214" y="208.5" width="2.9" height="7.5" fill="#e8ad6a" opacity="0.45"/>
<rect x="219.5" y="208.5" width="4" height="7.5" fill="#e8ad6a" opacity="0.8"/>
<rect x="228.5" y="208.5" width="3.5" height="5.5" fill="#e8ad6a" opacity="0.5"/>
<rect x="237" y="208.5" width="3" height="4.5" fill="#e8ad6a" opacity="0.45"/>
<rect x="240.5" y="208.5" width="2" height="3.5" fill="#e8ad6a" opacity="0.5"/>
<rect x="244.2" y="208.5" width="2.8" height="2.5" fill="#e8ad6a" opacity="0.4"/>
<line x1="35.3" y1="208.5" x2="35.3" y2="343.5" stroke="#666" stroke-width="0.7"/>
<line x1="33.8" y1="208.50" x2="35.3" y2="208.50" stroke="#555" stroke-width="0.7"/>
<text class="t" x="30.8" y="210.70" font-size="6.0" text-anchor="end" fill="#1a1a1a">0 %</text>
<line x1="33.8" y1="215.25" x2="35.3" y2="215.25" stroke="#555" stroke-width="0.7"/>
<text class="t" x="30.8" y="217.45" font-size="6.0" text-anchor="end" fill="#1a1a1a">5 %</text>
<line x1="33.8" y1="222.00" x2="35.3" y2="222.00" stroke="#555" stroke-width="0.7"/>
<text class="t" x="30.8" y="224.20" font-size="6.0" text-anchor="end" fill="#1a1a1a">10 %</text>
<line x1="33.8" y1="228.75" x2="35.3" y2="228.75" stroke="#555" stroke-width="0.7"/>
<text class="t" x="30.8" y="230.95" font-size="6.0" text-anchor="end" fill="#1a1a1a">15 %</text>
<line x1="33.8" y1="235.50" x2="35.3" y2="235.50" stroke="#555" stroke-width="0.7"/>
<text class="t" x="30.8" y="237.70" font-size="6.0" text-anchor="end" fill="#1a1a1a">20 %</text>
<line x1="33.8" y1="242.25" x2="35.3" y2="242.25" stroke="#555" stroke-width="0.7"/>
<text class="t" x="30.8" y="244.45" font-size="6.0" text-anchor="end" fill="#1a1a1a">25 %</text>
<line x1="33.8" y1="249.00" x2="35.3" y2="249.00" stroke="#555" stroke-width="0.7"/>
<text class="t" x="30.8" y="251.20" font-size="6.0" text-anchor="end" fill="#1a1a1a">30 %</text>
<line x1="33.8" y1="255.75" x2="35.3" y2="255.75" stroke="#555" stroke-width="0.7"/>
<text class="t" x="30.8" y="257.95" font-size="6.0" text-anchor="end" fill="#1a1a1a">35 %</text>
<line x1="33.8" y1="262.50" x2="35.3" y2="262.50" stroke="#555" stroke-width="0.7"/>
<text class="t" x="30.8" y="264.70" font-size="6.0" text-anchor="end" fill="#1a1a1a">40 %</text>
<line x1="33.8" y1="269.25" x2="35.3" y2="269.25" stroke="#555" stroke-width="0.7"/>
<text class="t" x="30.8" y="271.45" font-size="6.0" text-anchor="end" fill="#1a1a1a">45 %</text>
<line x1="33.8" y1="276.00" x2="35.3" y2="276.00" stroke="#555" stroke-width="0.7"/>
<text class="t" x="30.8" y="278.20" font-size="6.0" text-anchor="end" fill="#1a1a1a">50 %</text>
<line x1="33.8" y1="282.75" x2="35.3" y2="282.75" stroke="#555" stroke-width="0.7"/>
<text class="t" x="30.8" y="284.95" font-size="6.0" text-anchor="end" fill="#1a1a1a">55 %</text>
<line x1="33.8" y1="289.50" x2="35.3" y2="289.50" stroke="#555" stroke-width="0.7"/>
<text class="t" x="30.8" y="291.70" font-size="6.0" text-anchor="end" fill="#1a1a1a">60 %</text>
<line x1="33.8" y1="296.25" x2="35.3" y2="296.25" stroke="#555" stroke-width="0.7"/>
<text class="t" x="30.8" y="298.45" font-size="6.0" text-anchor="end" fill="#1a1a1a">65 %</text>
<line x1="33.8" y1="303.00" x2="35.3" y2="303.00" stroke="#555" stroke-width="0.7"/>
<text class="t" x="30.8" y="305.20" font-size="6.0" text-anchor="end" fill="#1a1a1a">70 %</text>
<line x1="33.8" y1="309.75" x2="35.3" y2="309.75" stroke="#555" stroke-width="0.7"/>
<text class="t" x="30.8" y="311.95" font-size="6.0" text-anchor="end" fill="#1a1a1a">75 %</text>
<line x1="33.8" y1="316.50" x2="35.3" y2="316.50" stroke="#555" stroke-width="0.7"/>
<text class="t" x="30.8" y="318.70" font-size="6.0" text-anchor="end" fill="#1a1a1a">80 %</text>
<line x1="33.8" y1="323.25" x2="35.3" y2="323.25" stroke="#555" stroke-width="0.7"/>
<text class="t" x="30.8" y="325.45" font-size="6.0" text-anchor="end" fill="#1a1a1a">85 %</text>
<line x1="33.8" y1="330.00" x2="35.3" y2="330.00" stroke="#555" stroke-width="0.7"/>
<text class="t" x="30.8" y="332.20" font-size="6.0" text-anchor="end" fill="#1a1a1a">90 %</text>
<line x1="33.8" y1="336.75" x2="35.3" y2="336.75" stroke="#555" stroke-width="0.7"/>
<text class="t" x="30.8" y="338.95" font-size="6.0" text-anchor="end" fill="#1a1a1a">95 %</text>
<line x1="33.8" y1="343.50" x2="35.3" y2="343.50" stroke="#555" stroke-width="0.7"/>
<text class="t" x="30.8" y="345.70" font-size="6.0" text-anchor="end" fill="#1a1a1a">100 %</text>
<text class="t" x="46.00" y="359.00" font-size="6.0" text-anchor="middle" fill="#1a1a1a">1</text>
<text class="t" x="63.40" y="350.50" font-size="6.0" text-anchor="middle" fill="#1a1a1a">2</text>
<text class="t" x="79.40" y="359.00" font-size="6.0" text-anchor="middle" fill="#1a1a1a">3</text>
<text class="t" x="93.40" y="350.50" font-size="6.0" text-anchor="middle" fill="#1a1a1a">4</text>
<text class="t" x="106.95" y="359.00" font-size="6.0" text-anchor="middle" fill="#1a1a1a">5</text>
<text class="t" x="120.00" y="350.50" font-size="6.0" text-anchor="middle" fill="#1a1a1a">6</text>
<text class="t" x="131.95" y="359.00" font-size="6.0" text-anchor="middle" fill="#1a1a1a">7</text>
<text class="t" x="142.90" y="350.50" font-size="6.0" text-anchor="middle" fill="#1a1a1a">8</text>
<text class="t" x="153.05" y="359.00" font-size="6.0" text-anchor="middle" fill="#1a1a1a">9</text>
<text class="t" x="162.85" y="350.50" font-size="6.0" text-anchor="middle" fill="#1a1a1a">10</text>
<text class="t" x="172.70" y="359.00" font-size="6.0" text-anchor="middle" fill="#1a1a1a">11</text>
<text class="t" x="182.65" y="350.50" font-size="6.0" text-anchor="middle" fill="#1a1a1a">12</text>
<text class="t" x="191.90" y="359.00" font-size="6.0" text-anchor="middle" fill="#1a1a1a">13</text>
<text class="t" x="199.60" y="350.50" font-size="6.0" text-anchor="middle" fill="#1a1a1a">14</text>
<text class="t" x="206.90" y="359.00" font-size="6.0" text-anchor="middle" fill="#1a1a1a">15</text>
<text class="t" x="214.00" y="350.50" font-size="6.0" text-anchor="middle" fill="#1a1a1a">16</text>
<text class="t" x="220.50" y="359.00" font-size="6.0" text-anchor="middle" fill="#1a1a1a">17</text>
<text class="t" x="225.75" y="350.50" font-size="6.0" text-anchor="middle" fill="#1a1a1a">18</text>
<text class="t" x="231.20" y="359.00" font-size="6.0" text-anchor="middle" fill="#1a1a1a">19</text>
<text class="t" x="235.10" y="350.50" font-size="6.0" text-anchor="middle" fill="#1a1a1a">20</text>
<text class="t" x="238.80" y="359.00" font-size="6.0" text-anchor="middle" fill="#1a1a1a">21</text>
<text class="t" x="241.90" y="350.50" font-size="6.0" text-anchor="middle" fill="#1a1a1a">22</text>
<text class="t" x="250.40" y="359.00" font-size="6.0" text-anchor="middle" fill="#1a1a1a">X</text>
<text class="t" x="258.20" y="350.50" font-size="6.0" text-anchor="middle" fill="#1a1a1a">Y</text>
<rect x="103" y="367.2" width="5" height="4.3" fill="#9b1d31"/>
<text x="110" y="371.6" font-size="5.6" fill="#1e1e1e" class="t">LOSS</text>
<rect x="131.7" y="367.2" width="5" height="4.3" fill="#72a8dc"/>
<text x="138.5" y="371.6" font-size="5.6" fill="#1e1e1e" class="t">GAIN</text>
<rect x="160.5" y="367.2" width="5" height="4.3" fill="#e4b882"/>
<text x="167.3" y="371.6" font-size="5.6" fill="#1e1e1e" class="t">CNN-LOH</text>
<text class="b" x="270.4" y="14.6" font-size="8.6" font-weight="bold" fill="#111">C</text>
<text x="389.9" y="11.1" font-size="6.9" font-weight="bold" text-anchor="middle" fill="#111" class="b2">1p36.33-p11</text>
<defs><linearGradient id="ig" x1="0" y1="0" x2="0" y2="1"><stop offset="0" stop-color="#b8b8b8"/><stop offset="0.28" stop-color="#f2f2f2"/><stop offset="0.5" stop-color="#fcfcfc"/><stop offset="0.72" stop-color="#f2f2f2"/><stop offset="1" stop-color="#b8b8b8"/></linearGradient><linearGradient id="igd" x1="0" y1="0" x2="0" y2="1"><stop offset="0" stop-color="#000"/><stop offset="0.2" stop-color="#222"/><stop offset="0.5" stop-color="#a2a2a2"/><stop offset="0.8" stop-color="#222"/><stop offset="1" stop-color="#000"/></linearGradient><linearGradient id="igm" x1="0" y1="0" x2="0" y2="1"><stop offset="0" stop-color="#505050"/><stop offset="0.3" stop-color="#8c8c8c"/><stop offset="0.5" stop-color="#bdbdbd"/><stop offset="0.7" stop-color="#8c8c8c"/><stop offset="1" stop-color="#505050"/></linearGradient><linearGradient id="igl" x1="0" y1="0" x2="0" y2="1"><stop offset="0" stop-color="#8a8a8a"/><stop offset="0.3" stop-color="#c4c4c4"/><stop offset="0.5" stop-color="#dedede"/><stop offset="0.7" stop-color="#c4c4c4"/><stop offset="1" stop-color="#8a8a8a"/></linearGradient></defs>
<rect x="302" y="16.7" width="184" height="8.8" fill="url(#ig)"/>
<rect x="370.3" y="16.7" width="5.7" height="8.8" fill="url(#igm)"/>
<rect x="385" y="16.7" width="4.0" height="8.8" fill="url(#igm)"/>
<rect x="393" y="16.7" width="11.0" height="8.8" fill="url(#igl)"/>
<rect x="406" y="16.7" width="23.4" height="8.8" fill="url(#igd)"/>
<rect x="434.8" y="16.7" width="5.8" height="8.8" fill="url(#igm)"/>
<rect x="445.3" y="16.7" width="6.9" height="8.8" fill="url(#igm)"/>
<rect x="456" y="16.7" width="7.9" height="8.8" fill="url(#igd)"/>
<rect x="471.5" y="16.7" width="6.5" height="8.8" fill="url(#igl)"/>
<rect x="480" y="16.7" width="5.3" height="8.8" fill="url(#igm)"/>
<rect x="312.3" y="19.6" width="5.9" height="3.8" fill="#c4c4c4"/>
<text x="312.3" y="23.3" font-size="4.2" font-weight="bold" fill="#333" textLength="5.9" lengthAdjust="spacingAndGlyphs">p36.3</text>
<rect x="321.2" y="19.6" width="3.8" height="3.8" fill="#c4c4c4"/>
<text x="321.2" y="23.3" font-size="4.2" font-weight="bold" fill="#333" textLength="3.8" lengthAdjust="spacingAndGlyphs">36.2</text>
<rect x="326.4" y="19.6" width="3.8" height="3.8" fill="#c4c4c4"/>
<text x="326.4" y="23.3" font-size="4.2" font-weight="bold" fill="#333" textLength="3.8" lengthAdjust="spacingAndGlyphs">36.1</text>
<rect x="331.4" y="19.6" width="3.8" height="3.8" fill="#c4c4c4"/>
<text x="331.4" y="23.3" font-size="4.2" font-weight="bold" fill="#333" textLength="3.8" lengthAdjust="spacingAndGlyphs">35</text>
<rect x="336.2" y="19.6" width="2.4" height="3.8" fill="#c4c4c4"/>
<text x="336.2" y="23.3" font-size="4.2" font-weight="bold" fill="#333" textLength="2.4" lengthAdjust="spacingAndGlyphs">34</text>
<rect x="353.4" y="19.6" width="3.8" height="3.8" fill="#c4c4c4"/>
<text x="353.4" y="23.3" font-size="4.2" font-weight="bold" fill="#333" textLength="3.8" lengthAdjust="spacingAndGlyphs">p33</text>
<rect x="361" y="19.6" width="3.6" height="3.8" fill="#c4c4c4"/>
<text x="361" y="23.3" font-size="4.2" font-weight="bold" fill="#333" textLength="3.6" lengthAdjust="spacingAndGlyphs">p32</text>
<rect x="378" y="19.6" width="5.0" height="3.8" fill="#c4c4c4"/>
<text x="378" y="23.3" font-size="4.2" font-weight="bold" fill="#333" textLength="5.0" lengthAdjust="spacingAndGlyphs">p31</text>
<rect x="395" y="19.6" width="4.0" height="3.8" fill="#c4c4c4"/>
<text x="395" y="23.3" font-size="4.2" font-weight="bold" fill="#333" textLength="4.0" lengthAdjust="spacingAndGlyphs">p22</text>
<rect x="400" y="19.6" width="3.0" height="3.8" fill="#c4c4c4"/>
<text x="400" y="23.3" font-size="4.2" font-weight="bold" fill="#333" textLength="3.0" lengthAdjust="spacingAndGlyphs">21</text>
<rect x="430.5" y="19.6" width="3.5" height="3.8" fill="#c4c4c4"/>
<text x="430.5" y="23.3" font-size="4.2" font-weight="bold" fill="#333" textLength="3.5" lengthAdjust="spacingAndGlyphs">p13</text>
<rect x="441.5" y="19.6" width="3.0" height="3.8" fill="#c4c4c4"/>
<text x="441.5" y="23.3" font-size="4.2" font-weight="bold" fill="#333" textLength="3.0" lengthAdjust="spacingAndGlyphs">12</text>
<rect x="465.5" y="19.6" width="4.5" height="3.8" fill="#c4c4c4"/>
<text x="465.5" y="23.3" font-size="4.2" font-weight="bold" fill="#333" textLength="4.5" lengthAdjust="spacingAndGlyphs">p11</text>
<rect x="318.6" y="18.5" width="2" height="5.5" fill="#444" opacity="0.6"/>
<polygon points="485.6,17 491.6,21.1 485.6,25.2" fill="#f8f8f8" stroke="#9a9a9a" stroke-width="0.7"/>
<rect x="301.5" y="75.4" width="6.5" height="24.0" fill="#fbebc4"/>
<rect x="301.5" y="29.8" width="189.7" height="35.2" fill="none" stroke="#aaa" stroke-width="0.8"/>
<line x1="301.5" y1="65.0" x2="491.2" y2="65.0" stroke="#959595" stroke-width="0.9"/>
<line x1="301.5" y1="47.5" x2="491.2" y2="47.5" stroke="#5e5e5e" stroke-width="0.95"/>
<rect x="301.5" y="75.4" width="189.7" height="24.0" fill="none" stroke="#999" stroke-width="0.8"/>
<line x1="297.5" y1="87.5" x2="491.2" y2="87.5" stroke="#8a8a8a" stroke-width="0.8"/>
<rect x="303.85" y="67.50" width="4.3" height="1.8" fill="#b0b0b0"/>
<rect x="310.95" y="67.50" width="5.0" height="1.8" fill="#b0b0b0"/>
<rect x="318.40" y="67.50" width="5.0" height="1.8" fill="#b0b0b0"/>
<rect x="325.85" y="67.50" width="5.0" height="1.8" fill="#b0b0b0"/>
<rect x="333.30" y="67.50" width="5.0" height="1.8" fill="#b0b0b0"/>
<rect x="340.75" y="67.50" width="5.0" height="1.8" fill="#b0b0b0"/>
<rect x="348.20" y="67.50" width="5.0" height="1.8" fill="#b0b0b0"/>
<rect x="355.65" y="67.50" width="5.0" height="1.8" fill="#b0b0b0"/>
<rect x="363.10" y="67.50" width="5.0" height="1.8" fill="#b0b0b0"/>
<rect x="370.55" y="67.50" width="5.0" height="1.8" fill="#b0b0b0"/>
<rect x="378.00" y="67.50" width="5.0" height="1.8" fill="#b0b0b0"/>
<rect x="385.45" y="67.50" width="5.0" height="1.8" fill="#b0b0b0"/>
<rect x="392.90" y="67.50" width="5.0" height="1.8" fill="#b0b0b0"/>
<rect x="400.35" y="67.50" width="5.0" height="1.8" fill="#b0b0b0"/>
<rect x="407.80" y="67.50" width="5.0" height="1.8" fill="#b0b0b0"/>
<rect x="415.25" y="67.50" width="5.0" height="1.8" fill="#b0b0b0"/>
<rect x="422.70" y="67.50" width="5.0" height="1.8" fill="#b0b0b0"/>
<rect x="430.15" y="67.50" width="5.0" height="1.8" fill="#b0b0b0"/>
<rect x="437.60" y="67.50" width="5.0" height="1.8" fill="#b0b0b0"/>
<rect x="445.05" y="67.50" width="5.0" height="1.8" fill="#b0b0b0"/>
<rect x="451.80" y="67.50" width="6.4" height="1.8" fill="#b0b0b0"/>
<rect x="459.25" y="67.50" width="6.4" height="1.8" fill="#b0b0b0"/>
<rect x="466.70" y="67.50" width="6.4" height="1.8" fill="#b0b0b0"/>
<rect x="474.15" y="67.50" width="6.4" height="1.8" fill="#b0b0b0"/>
<rect x="481.60" y="67.50" width="6.4" height="1.8" fill="#b0b0b0"/>
<line x1="300.0" y1="29.8" x2="301.5" y2="29.8" stroke="#888" stroke-width="0.5"/>
<line x1="300.0" y1="47.5" x2="301.5" y2="47.5" stroke="#888" stroke-width="0.5"/>
<line x1="300.0" y1="65.0" x2="301.5" y2="65.0" stroke="#888" stroke-width="0.5"/>
<line x1="300.0" y1="75.4" x2="301.5" y2="75.4" stroke="#888" stroke-width="0.5"/>
<line x1="300.0" y1="87.5" x2="301.5" y2="87.5" stroke="#888" stroke-width="0.5"/>
<line x1="300.0" y1="99.4" x2="301.5" y2="99.4" stroke="#888" stroke-width="0.5"/>
<rect x="295.5" y="28.70" width="1.2" height="2.2" fill="#c6c6c6"/>
<rect x="295.5" y="34.57" width="1.2" height="2.2" fill="#c6c6c6"/>
<rect x="295.5" y="40.43" width="1.2" height="2.2" fill="#c6c6c6"/>
<rect x="295.5" y="46.30" width="1.2" height="2.2" fill="#c6c6c6"/>
<rect x="295.5" y="52.17" width="1.2" height="2.2" fill="#c6c6c6"/>
<rect x="295.5" y="58.03" width="1.2" height="2.2" fill="#c6c6c6"/>
<rect x="295.5" y="63.90" width="1.2" height="2.2" fill="#c6c6c6"/>
<rect x="295.5" y="74.30" width="1.2" height="2.2" fill="#c6c6c6"/>
<rect x="295.5" y="86.40" width="1.2" height="2.2" fill="#c6c6c6"/>
<rect x="295.5" y="98.30" width="1.2" height="2.2" fill="#c6c6c6"/>
<text transform="translate(280.4,66.2) rotate(-90)" font-size="7.3" font-weight="bold" text-anchor="middle" fill="#111" class="b">PTFL11</text>
<text transform="translate(289.6,47.6) rotate(-90)" font-size="5.2" text-anchor="middle" fill="#222">CN</text>
<text transform="translate(290.1,88.30) rotate(-90)" font-size="5.9" text-anchor="middle" fill="#222">Allelic freq</text>
<rect x="301.5" y="164.8" width="146.3" height="29.5" fill="#fbebc4"/>
<rect x="301.5" y="108.5" width="189.7" height="43.69999999999999" fill="none" stroke="#aaa" stroke-width="0.8"/>
<line x1="301.5" y1="152.2" x2="491.2" y2="152.2" stroke="#959595" stroke-width="0.9"/>
<line x1="301.5" y1="130.4" x2="491.2" y2="130.4" stroke="#5e5e5e" stroke-width="0.95"/>
<rect x="301.5" y="164.8" width="189.7" height="29.5" fill="none" stroke="#999" stroke-width="0.8"/>
<line x1="297.5" y1="179.6" x2="491.2" y2="179.6" stroke="#8a8a8a" stroke-width="0.8"/>
<rect x="303.85" y="155.40" width="4.3" height="1.8" fill="#b0b0b0"/>
<rect x="310.95" y="155.40" width="5.0" height="1.8" fill="#b0b0b0"/>
<rect x="318.40" y="155.40" width="5.0" height="1.8" fill="#b0b0b0"/>
<rect x="325.85" y="155.40" width="5.0" height="1.8" fill="#b0b0b0"/>
<rect x="333.30" y="155.40" width="5.0" height="1.8" fill="#b0b0b0"/>
<rect x="340.75" y="155.40" width="5.0" height="1.8" fill="#b0b0b0"/>
<rect x="348.20" y="155.40" width="5.0" height="1.8" fill="#b0b0b0"/>
<rect x="355.65" y="155.40" width="5.0" height="1.8" fill="#b0b0b0"/>
<rect x="363.10" y="155.40" width="5.0" height="1.8" fill="#b0b0b0"/>
<rect x="370.55" y="155.40" width="5.0" height="1.8" fill="#b0b0b0"/>
<rect x="378.00" y="155.40" width="5.0" height="1.8" fill="#b0b0b0"/>
<rect x="385.45" y="155.40" width="5.0" height="1.8" fill="#b0b0b0"/>
<rect x="392.90" y="155.40" width="5.0" height="1.8" fill="#b0b0b0"/>
<rect x="400.35" y="155.40" width="5.0" height="1.8" fill="#b0b0b0"/>
<rect x="407.80" y="155.40" width="5.0" height="1.8" fill="#b0b0b0"/>
<rect x="415.25" y="155.40" width="5.0" height="1.8" fill="#b0b0b0"/>
<rect x="422.70" y="155.40" width="5.0" height="1.8" fill="#b0b0b0"/>
<rect x="430.15" y="155.40" width="5.0" height="1.8" fill="#b0b0b0"/>
<rect x="437.60" y="155.40" width="5.0" height="1.8" fill="#b0b0b0"/>
<rect x="445.05" y="155.40" width="5.0" height="1.8" fill="#b0b0b0"/>
<rect x="451.80" y="155.40" width="6.4" height="1.8" fill="#b0b0b0"/>
<rect x="459.25" y="155.40" width="6.4" height="1.8" fill="#b0b0b0"/>
<rect x="466.70" y="155.40" width="6.4" height="1.8" fill="#b0b0b0"/>
<rect x="474.15" y="155.40" width="6.4" height="1.8" fill="#b0b0b0"/>
<rect x="481.60" y="155.40" width="6.4" height="1.8" fill="#b0b0b0"/>
<line x1="300.0" y1="108.5" x2="301.5" y2="108.5" stroke="#888" stroke-width="0.5"/>
<line x1="300.0" y1="130.4" x2="301.5" y2="130.4" stroke="#888" stroke-width="0.5"/>
<line x1="300.0" y1="152.2" x2="301.5" y2="152.2" stroke="#888" stroke-width="0.5"/>
<line x1="300.0" y1="164.8" x2="301.5" y2="164.8" stroke="#888" stroke-width="0.5"/>
<line x1="300.0" y1="179.6" x2="301.5" y2="179.6" stroke="#888" stroke-width="0.5"/>
<line x1="300.0" y1="194.3" x2="301.5" y2="194.3" stroke="#888" stroke-width="0.5"/>
<rect x="295.5" y="107.40" width="1.2" height="2.2" fill="#c6c6c6"/>
<rect x="295.5" y="114.68" width="1.2" height="2.2" fill="#c6c6c6"/>
<rect x="295.5" y="121.97" width="1.2" height="2.2" fill="#c6c6c6"/>
<rect x="295.5" y="129.25" width="1.2" height="2.2" fill="#c6c6c6"/>
<rect x="295.5" y="136.53" width="1.2" height="2.2" fill="#c6c6c6"/>
<rect x="295.5" y="143.82" width="1.2" height="2.2" fill="#c6c6c6"/>
<rect x="295.5" y="151.10" width="1.2" height="2.2" fill="#c6c6c6"/>
<rect x="295.5" y="163.70" width="1.2" height="2.2" fill="#c6c6c6"/>
<rect x="295.5" y="178.50" width="1.2" height="2.2" fill="#c6c6c6"/>
<rect x="295.5" y="193.20" width="1.2" height="2.2" fill="#c6c6c6"/>
<text transform="translate(280.4,152.8) rotate(-90)" font-size="7.3" font-weight="bold" text-anchor="middle" fill="#111" class="b">PTFL14</text>
<text transform="translate(289.6,131.2) rotate(-90)" font-size="5.2" text-anchor="middle" fill="#222">CN</text>
<text transform="translate(290.1,180.45) rotate(-90)" font-size="5.9" text-anchor="middle" fill="#222">Allelic freq</text>
<rect x="301.5" y="224.0" width="5.5" height="17.30000000000001" fill="#fad3d7"/>
<rect x="301.5" y="204.5" width="189.7" height="36.80000000000001" fill="none" stroke="#aaa" stroke-width="0.8"/>
<line x1="301.5" y1="241.3" x2="491.2" y2="241.3" stroke="#959595" stroke-width="0.9"/>
<line x1="301.5" y1="223.0" x2="491.2" y2="223.0" stroke="#5e5e5e" stroke-width="0.95"/>
<rect x="301.5" y="252.1" width="189.7" height="25.799999999999983" fill="none" stroke="#999" stroke-width="0.8"/>
<line x1="297.5" y1="265.2" x2="491.2" y2="265.2" stroke="#8a8a8a" stroke-width="0.8"/>
<rect x="303.85" y="244.50" width="4.3" height="1.8" fill="#b0b0b0"/>
<rect x="310.95" y="244.50" width="5.0" height="1.8" fill="#b0b0b0"/>
<rect x="318.40" y="244.50" width="5.0" height="1.8" fill="#b0b0b0"/>
<rect x="325.85" y="244.50" width="5.0" height="1.8" fill="#b0b0b0"/>
<rect x="333.30" y="244.50" width="5.0" height="1.8" fill="#b0b0b0"/>
<rect x="340.75" y="244.50" width="5.0" height="1.8" fill="#b0b0b0"/>
<rect x="348.20" y="244.50" width="5.0" height="1.8" fill="#b0b0b0"/>
<rect x="355.65" y="244.50" width="5.0" height="1.8" fill="#b0b0b0"/>
<rect x="363.10" y="244.50" width="5.0" height="1.8" fill="#b0b0b0"/>
<rect x="370.55" y="244.50" width="5.0" height="1.8" fill="#b0b0b0"/>
<rect x="378.00" y="244.50" width="5.0" height="1.8" fill="#b0b0b0"/>
<rect x="385.45" y="244.50" width="5.0" height="1.8" fill="#b0b0b0"/>
<rect x="392.90" y="244.50" width="5.0" height="1.8" fill="#b0b0b0"/>
<rect x="400.35" y="244.50" width="5.0" height="1.8" fill="#b0b0b0"/>
<rect x="407.80" y="244.50" width="5.0" height="1.8" fill="#b0b0b0"/>
<rect x="415.25" y="244.50" width="5.0" height="1.8" fill="#b0b0b0"/>
<rect x="422.70" y="244.50" width="5.0" height="1.8" fill="#b0b0b0"/>
<rect x="430.15" y="244.50" width="5.0" height="1.8" fill="#b0b0b0"/>
<rect x="437.60" y="244.50" width="5.0" height="1.8" fill="#b0b0b0"/>
<rect x="445.05" y="244.50" width="5.0" height="1.8" fill="#b0b0b0"/>
<rect x="451.80" y="244.50" width="6.4" height="1.8" fill="#b0b0b0"/>
<rect x="459.25" y="244.50" width="6.4" height="1.8" fill="#b0b0b0"/>
<rect x="466.70" y="244.50" width="6.4" height="1.8" fill="#b0b0b0"/>
<rect x="474.15" y="244.50" width="6.4" height="1.8" fill="#b0b0b0"/>
<rect x="481.60" y="244.50" width="6.4" height="1.8" fill="#b0b0b0"/>
<line x1="300.0" y1="204.5" x2="301.5" y2="204.5" stroke="#888" stroke-width="0.5"/>
<line x1="300.0" y1="223.0" x2="301.5" y2="223.0" stroke="#888" stroke-width="0.5"/>
<line x1="300.0" y1="241.3" x2="301.5" y2="241.3" stroke="#888" stroke-width="0.5"/>
<line x1="300.0" y1="252.1" x2="301.5" y2="252.1" stroke="#888" stroke-width="0.5"/>
<line x1="300.0" y1="265.2" x2="301.5" y2="265.2" stroke="#888" stroke-width="0.5"/>
<line x1="300.0" y1="277.9" x2="301.5" y2="277.9" stroke="#888" stroke-width="0.5"/>
<rect x="295.5" y="203.40" width="1.2" height="2.2" fill="#c6c6c6"/>
<rect x="295.5" y="209.53" width="1.2" height="2.2" fill="#c6c6c6"/>
<rect x="295.5" y="215.67" width="1.2" height="2.2" fill="#c6c6c6"/>
<rect x="295.5" y="221.80" width="1.2" height="2.2" fill="#c6c6c6"/>
<rect x="295.5" y="227.93" width="1.2" height="2.2" fill="#c6c6c6"/>
<rect x="295.5" y="234.07" width="1.2" height="2.2" fill="#c6c6c6"/>
<rect x="295.5" y="240.20" width="1.2" height="2.2" fill="#c6c6c6"/>
<rect x="295.5" y="251.00" width="1.2" height="2.2" fill="#c6c6c6"/>
<rect x="295.5" y="264.10" width="1.2" height="2.2" fill="#c6c6c6"/>
<rect x="295.5" y="276.80" width="1.2" height="2.2" fill="#c6c6c6"/>
<text transform="translate(280.4,241.8) rotate(-90)" font-size="7.3" font-weight="bold" text-anchor="middle" fill="#111" class="b">PTFL2</text>
<text transform="translate(289.6,223.8) rotate(-90)" font-size="5.2" text-anchor="middle" fill="#222">CN</text>
<text transform="translate(290.1,265.90) rotate(-90)" font-size="5.9" text-anchor="middle" fill="#222">Allelic freq</text>
<rect x="301.5" y="303.4" width="184.0" height="18.600000000000023" fill="#fad3d7"/>
<rect x="301.5" y="333.3" width="184.0" height="26.5" fill="#fbebc4"/>
<rect x="301.5" y="283.1" width="189.7" height="38.89999999999998" fill="none" stroke="#aaa" stroke-width="0.8"/>
<line x1="301.5" y1="322.0" x2="491.2" y2="322.0" stroke="#959595" stroke-width="0.9"/>
<line x1="301.5" y1="303.4" x2="491.2" y2="303.4" stroke="#5e5e5e" stroke-width="0.95"/>
<rect x="301.5" y="333.3" width="189.7" height="26.5" fill="none" stroke="#999" stroke-width="0.8"/>
<line x1="297.5" y1="346.4" x2="491.2" y2="346.4" stroke="#8a8a8a" stroke-width="0.8"/>
<rect x="303.85" y="324.40" width="4.3" height="1.8" fill="#b0b0b0"/>
<rect x="310.95" y="324.40" width="5.0" height="1.8" fill="#b0b0b0"/>
<rect x="318.40" y="324.40" width="5.0" height="1.8" fill="#b0b0b0"/>
<rect x="325.85" y="324.40" width="5.0" height="1.8" fill="#b0b0b0"/>
<rect x="333.30" y="324.40" width="5.0" height="1.8" fill="#b0b0b0"/>
<rect x="340.75" y="324.40" width="5.0" height="1.8" fill="#b0b0b0"/>
<rect x="348.20" y="324.40" width="5.0" height="1.8" fill="#b0b0b0"/>
<rect x="355.65" y="324.40" width="5.0" height="1.8" fill="#b0b0b0"/>
<rect x="363.10" y="324.40" width="5.0" height="1.8" fill="#b0b0b0"/>
<rect x="370.55" y="324.40" width="5.0" height="1.8" fill="#b0b0b0"/>
<rect x="378.00" y="324.40" width="5.0" height="1.8" fill="#b0b0b0"/>
<rect x="385.45" y="324.40" width="5.0" height="1.8" fill="#b0b0b0"/>
<rect x="392.90" y="324.40" width="5.0" height="1.8" fill="#b0b0b0"/>
<rect x="400.35" y="324.40" width="5.0" height="1.8" fill="#b0b0b0"/>
<rect x="407.80" y="324.40" width="5.0" height="1.8" fill="#b0b0b0"/>
<rect x="415.25" y="324.40" width="5.0" height="1.8" fill="#b0b0b0"/>
<rect x="422.70" y="324.40" width="5.0" height="1.8" fill="#b0b0b0"/>
<rect x="430.15" y="324.40" width="5.0" height="1.8" fill="#b0b0b0"/>
<rect x="437.60" y="324.40" width="5.0" height="1.8" fill="#b0b0b0"/>
<rect x="445.05" y="324.40" width="5.0" height="1.8" fill="#b0b0b0"/>
<rect x="451.80" y="324.40" width="6.4" height="1.8" fill="#b0b0b0"/>
<rect x="459.25" y="324.40" width="6.4" height="1.8" fill="#b0b0b0"/>
<rect x="466.70" y="324.40" width="6.4" height="1.8" fill="#b0b0b0"/>
<rect x="474.15" y="324.40" width="6.4" height="1.8" fill="#b0b0b0"/>
<rect x="481.60" y="324.40" width="6.4" height="1.8" fill="#b0b0b0"/>
<line x1="300.0" y1="283.1" x2="301.5" y2="283.1" stroke="#888" stroke-width="0.5"/>
<line x1="300.0" y1="303.4" x2="301.5" y2="303.4" stroke="#888" stroke-width="0.5"/>
<line x1="300.0" y1="322.0" x2="301.5" y2="322.0" stroke="#888" stroke-width="0.5"/>
<line x1="300.0" y1="333.3" x2="301.5" y2="333.3" stroke="#888" stroke-width="0.5"/>
<line x1="300.0" y1="346.4" x2="301.5" y2="346.4" stroke="#888" stroke-width="0.5"/>
<line x1="300.0" y1="359.8" x2="301.5" y2="359.8" stroke="#888" stroke-width="0.5"/>
<rect x="295.5" y="282.00" width="1.2" height="2.2" fill="#c6c6c6"/>
<rect x="295.5" y="288.48" width="1.2" height="2.2" fill="#c6c6c6"/>
<rect x="295.5" y="294.97" width="1.2" height="2.2" fill="#c6c6c6"/>
<rect x="295.5" y="301.45" width="1.2" height="2.2" fill="#c6c6c6"/>
<rect x="295.5" y="307.93" width="1.2" height="2.2" fill="#c6c6c6"/>
<rect x="295.5" y="314.42" width="1.2" height="2.2" fill="#c6c6c6"/>
<rect x="295.5" y="320.90" width="1.2" height="2.2" fill="#c6c6c6"/>
<rect x="295.5" y="332.20" width="1.2" height="2.2" fill="#c6c6c6"/>
<rect x="295.5" y="345.30" width="1.2" height="2.2" fill="#c6c6c6"/>
<rect x="295.5" y="358.70" width="1.2" height="2.2" fill="#c6c6c6"/>
<text transform="translate(280.4,322.3) rotate(-90)" font-size="7.3" font-weight="bold" text-anchor="middle" fill="#111" class="b">PTFL18</text>
<text transform="translate(289.6,300.7) rotate(-90)" font-size="5.2" text-anchor="middle" fill="#222">CN</text>
<text transform="translate(290.1,347.45) rotate(-90)" font-size="5.9" text-anchor="middle" fill="#222">Allelic freq</text>
<line x1="301.5" y1="224.3" x2="307" y2="224.3" stroke="#b03040" stroke-width="1"/>
<line x1="301.5" y1="304.2" x2="485.5" y2="304.2" stroke="#b06070" stroke-width="0.8" opacity="0.8"/>
<line x1="301.3" y1="10" x2="301.3" y2="362" stroke="#26261e" stroke-width="1.25" stroke-dasharray="1.6 1.6"/>
<rect x="501.2" y="32" width="13.9" height="165.2" fill="#fbc35c"/>
<rect x="501.2" y="201.7" width="13.9" height="157.3" fill="#d9898d"/>
<text transform="translate(504.6,115.6) rotate(90)" font-size="7.5" font-weight="bold" text-anchor="middle" fill="#111" class="b2">1p CNN-LOH</text>
<text transform="translate(504.6,279.4) rotate(90)" font-size="7" font-weight="bold" text-anchor="middle" fill="#111" class="b2">1p LOSS</text>
<text x="283.3" y="371.4" font-size="7" font-weight="bold" font-style="italic" fill="#111" class="b">TNFRSF14</text>
<line x1="0" y1="0.5" x2="520" y2="0.5" stroke="#888" stroke-width="1"/>
<line x1="0.5" y1="0" x2="0.5" y2="378" stroke="#808080" stroke-width="1"/>
<line x1="519.5" y1="0" x2="519.5" y2="378" stroke="#5a5a5a" stroke-width="1"/>
<line x1="0" y1="377.5" x2="520" y2="377.5" stroke="#555" stroke-width="1"/>
</svg></body></html>
